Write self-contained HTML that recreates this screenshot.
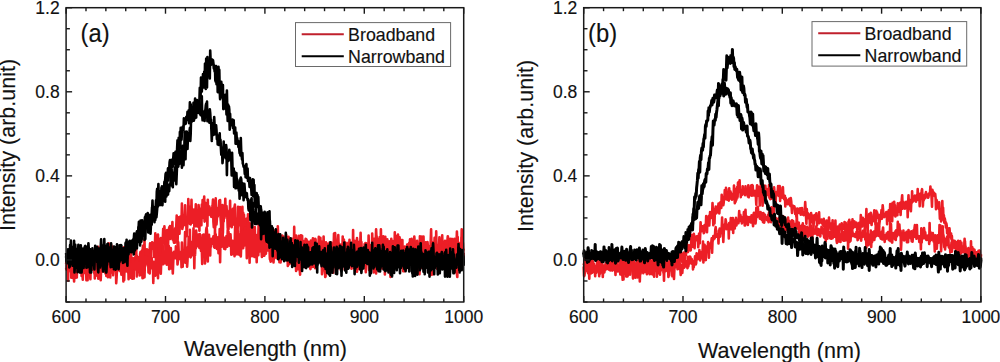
<!DOCTYPE html>
<html><head><meta charset="utf-8"><style>
html,body{margin:0;padding:0;background:#fff;width:1000px;height:362px;overflow:hidden}
svg{display:block}
text{font-family:"Liberation Sans", sans-serif;fill:#111;stroke:#111;stroke-width:0.15px}
</style></head><body>
<svg width="1000" height="362" viewBox="0 0 1000 362">
<path d="M66.1,264.1 66.5,261.0 66.9,255.0 67.3,254.8 67.7,258.1 68.1,265.8 68.5,268.4 68.9,268.9 69.3,264.9 69.7,262.5 70.1,270.2 70.5,271.6 70.9,259.5 71.3,277.6 71.7,263.5 72.1,258.4 72.5,270.3 72.9,271.4 73.3,268.4 73.7,256.6 74.1,263.1 74.5,277.7 74.9,265.6 75.3,253.5 75.7,253.7 76.0,256.7 76.4,264.0 76.8,277.5 77.2,260.5 77.6,263.4 78.0,261.3 78.4,249.0 78.8,260.4 79.2,259.6 79.6,256.8 80.0,264.1 80.4,267.5 80.8,268.1 81.2,255.4 81.6,257.6 82.0,266.0 82.4,252.2 82.8,260.3 83.2,273.1 83.6,256.7 84.0,263.0 84.4,273.0 84.8,257.4 85.2,264.7 85.6,265.1 86.0,256.8 86.4,280.2 86.8,272.5 87.2,265.3 87.6,259.6 88.0,267.3 88.4,270.0 88.8,270.5 89.2,262.6 89.6,255.9 90.0,273.8 90.4,279.1 90.8,264.1 91.2,264.8 91.6,269.2 92.0,256.4 92.4,254.8 92.8,266.2 93.2,264.4 93.6,256.7 94.0,265.1 94.4,273.2 94.8,262.0 95.2,269.0 95.6,258.7 95.9,265.6 96.3,262.9 96.7,257.0 97.1,262.4 97.5,266.6 97.9,269.7 98.3,246.8 98.7,251.9 99.1,273.9 99.5,270.1 99.9,256.3 100.3,266.1 100.7,261.0 101.1,254.3 101.5,260.0 101.9,262.2 102.3,265.0 102.7,261.8 103.1,257.8 103.5,246.4 103.9,252.0 104.3,262.6 104.7,253.2 105.1,259.9 105.5,273.4 105.9,261.8 106.3,252.5 106.7,265.8 107.1,252.9 107.5,263.4 107.9,260.5 108.3,270.8 108.7,243.3 109.1,256.9 109.5,252.2 109.9,264.5 110.3,272.9 110.7,250.4 111.1,266.6 111.5,246.7 111.9,262.0 112.3,246.8 112.7,266.6 113.1,275.3 113.5,254.6 113.9,261.0 114.3,260.4 114.7,251.5 115.1,267.8 115.5,271.2 115.8,270.1 116.2,274.4 116.6,275.4 117.0,271.0 117.4,268.4 117.8,264.0 118.2,270.3 118.6,261.4 119.0,253.9 119.4,262.2 119.8,256.8 120.2,268.0 120.6,258.0 121.0,256.5 121.4,265.9 121.8,273.5 122.2,262.2 122.6,260.8 123.0,248.8 123.4,264.3 123.8,247.2 124.2,279.9 124.6,263.6 125.0,265.1 125.4,264.2 125.8,265.4 126.2,261.4 126.6,247.3 127.0,262.2 127.4,251.0 127.8,261.7 128.2,259.9 128.6,279.3 129.0,260.0 129.4,255.6 129.8,270.1 130.2,265.7 130.6,267.6 131.0,242.9 131.4,268.6 131.8,266.3 132.2,278.8 132.6,273.4 133.0,258.5 133.4,270.7 133.8,278.5 134.2,262.4 134.6,259.1 135.0,257.7 135.4,256.8 135.7,264.8 136.1,237.7 136.5,264.2 136.9,255.8 137.3,269.9 137.7,264.5 138.1,271.9 138.5,257.3 138.9,262.3 139.3,267.3 139.7,275.5 140.1,254.2 140.5,251.8 140.9,251.6 141.3,259.1 141.7,252.5 142.1,250.5 142.5,253.6 142.9,245.8 143.3,258.8 143.7,255.5 144.1,269.6 144.5,239.4 144.9,262.7 145.3,253.5 145.7,250.7 146.1,262.4 146.5,255.7 146.9,249.4 147.3,255.6 147.7,257.0 148.1,256.8 148.5,259.7 148.9,254.9 149.3,250.1 149.7,249.1 150.1,243.4 150.5,251.7 150.9,256.1 151.3,244.4 151.7,248.2 152.1,242.4 152.5,248.8 152.9,245.5 153.3,246.3 153.7,243.1 154.1,256.9 154.5,249.3 154.9,246.5 155.3,233.3 155.6,247.8 156.0,243.0 156.4,247.9 156.8,263.2 157.2,235.3 157.6,239.6 158.0,234.5 158.4,255.8 158.8,241.7 159.2,242.2 159.6,256.3 160.0,239.0 160.4,247.5 160.8,238.0 161.2,255.5 161.6,248.6 162.0,246.8 162.4,253.2 162.8,239.6 163.2,228.8 163.6,239.5 164.0,233.7 164.4,226.3 164.8,233.6 165.2,240.9 165.6,253.4 166.0,234.2 166.4,239.5 166.8,240.2 167.2,230.0 167.6,231.1 168.0,248.4 168.4,233.0 168.8,237.4 169.2,227.2 169.6,234.2 170.0,226.0 170.4,238.9 170.8,236.4 171.2,237.3 171.6,234.0 172.0,234.2 172.4,222.0 172.8,239.8 173.2,230.6 173.6,240.7 174.0,242.7 174.4,235.3 174.8,242.6 175.2,228.3 175.5,235.5 175.9,233.6 176.3,225.0 176.7,215.5 177.1,232.6 177.5,244.1 177.9,230.8 178.3,227.2 178.7,217.4 179.1,226.9 179.5,233.6 179.9,218.2 180.3,216.5 180.7,226.8 181.1,222.5 181.5,221.6 181.9,203.5 182.3,228.9 182.7,227.0 183.1,224.1 183.5,217.0 183.9,225.1 184.3,218.1 184.7,214.5 185.1,205.3 185.5,222.7 185.9,223.8 186.3,223.7 186.7,236.1 187.1,230.2 187.5,218.8 187.9,218.6 188.3,199.1 188.7,209.0 189.1,212.6 189.5,206.6 189.9,224.0 190.3,223.1 190.7,224.4 191.1,219.3 191.5,199.8 191.9,219.7 192.3,222.7 192.7,216.8 193.1,210.0 193.5,212.8 193.9,209.5 194.3,226.5 194.7,223.5 195.1,218.0 195.4,215.2 195.8,204.4 196.2,226.2 196.6,210.2 197.0,217.3 197.4,210.1 197.8,220.6 198.2,226.6 198.6,205.0 199.0,212.3 199.4,230.8 199.8,208.6 200.2,222.7 200.6,215.0 201.0,214.2 201.4,225.2 201.8,204.5 202.2,218.1 202.6,200.0 203.0,209.4 203.4,209.0 203.8,211.0 204.2,196.6 204.6,221.6 205.0,219.4 205.4,218.3 205.8,203.1 206.2,203.8 206.6,211.8 207.0,210.2 207.4,226.1 207.8,199.8 208.2,214.0 208.6,211.1 209.0,214.6 209.4,206.5 209.8,213.7 210.2,210.9 210.6,211.1 211.0,216.0 211.4,216.9 211.8,208.4 212.2,208.5 212.6,205.5 213.0,199.5 213.4,222.0 213.8,227.1 214.2,215.1 214.6,201.0 215.0,212.1 215.3,227.0 215.7,198.4 216.1,207.6 216.5,224.4 216.9,218.9 217.3,211.1 217.7,216.7 218.1,213.2 218.5,207.8 218.9,212.2 219.3,200.6 219.7,214.0 220.1,200.0 220.5,217.5 220.9,222.4 221.3,230.3 221.7,220.1 222.1,212.2 222.5,205.0 222.9,233.3 223.3,213.6 223.7,221.5 224.1,207.5 224.5,217.9 224.9,211.2 225.3,198.7 225.7,213.0 226.1,215.5 226.5,206.0 226.9,212.0 227.3,216.3 227.7,228.3 228.1,218.0 228.5,229.2 228.9,213.8 229.3,210.9 229.7,215.5 230.1,200.8 230.5,226.1 230.9,213.3 231.3,216.7 231.7,227.2 232.1,213.4 232.5,211.0 232.9,208.8 233.3,219.9 233.7,213.5 234.1,224.6 234.5,206.9 234.9,204.6 235.2,218.6 235.6,218.3 236.0,229.3 236.4,220.5 236.8,224.0 237.2,219.3 237.6,233.2 238.0,206.9 238.4,220.4 238.8,213.2 239.2,218.4 239.6,225.2 240.0,207.0 240.4,214.0 240.8,236.1 241.2,224.2 241.6,226.2 242.0,231.3 242.4,206.8 242.8,235.4 243.2,212.8 243.6,240.2 244.0,214.7 244.4,230.8 244.8,245.5 245.2,224.8 245.6,223.3 246.0,235.3 246.4,218.9 246.8,242.4 247.2,219.2 247.6,224.0 248.0,214.2 248.4,232.8 248.8,222.5 249.2,235.0 249.6,223.6 250.0,228.7 250.4,224.3 250.8,242.1 251.2,227.5 251.6,228.8 252.0,219.6 252.4,235.3 252.8,234.3 253.2,227.7 253.6,229.0 254.0,254.0 254.4,236.3 254.8,227.0 255.1,237.5 255.5,250.3 255.9,237.9 256.3,235.5 256.7,243.6 257.1,235.1 257.5,245.3 257.9,237.9 258.3,235.9 258.7,221.9 259.1,234.0 259.5,226.6 259.9,235.6 260.3,247.1 260.7,247.4 261.1,231.3 261.5,251.5 261.9,251.6 262.3,230.9 262.7,245.5 263.1,248.4 263.5,225.2 263.9,246.4 264.3,234.2 264.7,239.8 265.1,238.5 265.5,239.4 265.9,231.5 266.3,227.7 266.7,248.0 267.1,227.6 267.5,242.3 267.9,242.1 268.3,235.1 268.7,245.5 269.1,248.8 269.5,228.6 269.9,246.2 270.3,259.2 270.7,261.7 271.1,239.1 271.5,243.2 271.9,227.6 272.3,251.9 272.7,252.4 273.1,242.1 273.5,231.4 273.9,230.8 274.3,242.5 274.7,248.2 275.0,241.8 275.4,230.3 275.8,243.8 276.2,247.0 276.6,239.6 277.0,241.8 277.4,242.6 277.8,226.3 278.2,238.1 278.6,242.8 279.0,246.8 279.4,246.2 279.8,239.8 280.2,238.1 280.6,249.5 281.0,248.7 281.4,246.7 281.8,252.3 282.2,235.5 282.6,252.2 283.0,243.5 283.4,236.6 283.8,253.1 284.2,252.1 284.6,246.3 285.0,241.0 285.4,243.7 285.8,244.9 286.2,234.9 286.6,250.2 287.0,251.2 287.4,240.2 287.8,244.7 288.2,237.9 288.6,236.8 289.0,255.1 289.4,263.5 289.8,241.5 290.2,246.5 290.6,243.9 291.0,253.9 291.4,239.7 291.8,248.4 292.2,242.0 292.6,239.0 293.0,245.8 293.4,247.5 293.8,252.6 294.2,226.9 294.6,258.4 294.9,241.2 295.3,259.7 295.7,254.1 296.1,235.6 296.5,253.5 296.9,238.6 297.3,250.7 297.7,240.3 298.1,259.5 298.5,257.3 298.9,235.7 299.3,245.1 299.7,256.7 300.1,252.1 300.5,268.4 300.9,250.9 301.3,259.4 301.7,256.5 302.1,235.9 302.5,253.1 302.9,253.9 303.3,258.0 303.7,243.2 304.1,244.2 304.5,256.0 304.9,262.9 305.3,250.8 305.7,248.0 306.1,265.8 306.5,239.6 306.9,256.9 307.3,248.5 307.7,255.9 308.1,255.8 308.5,241.7 308.9,248.7 309.3,262.2 309.7,246.7 310.1,242.7 310.5,251.0 310.9,240.6 311.3,257.4 311.7,241.7 312.1,247.8 312.5,248.3 312.9,238.2 313.3,243.8 313.7,252.3 314.1,245.5 314.5,255.4 314.8,245.5 315.2,238.7 315.6,239.5 316.0,255.6 316.4,251.7 316.8,244.3 317.2,244.8 317.6,256.0 318.0,247.9 318.4,246.5 318.8,236.9 319.2,247.7 319.6,250.4 320.0,258.8 320.4,261.2 320.8,242.0 321.2,249.2 321.6,253.5 322.0,241.6 322.4,245.7 322.8,250.6 323.2,243.7 323.6,253.2 324.0,243.7 324.4,246.5 324.8,253.3 325.2,253.0 325.6,255.8 326.0,242.2 326.4,250.8 326.8,258.2 327.2,243.6 327.6,245.6 328.0,249.6 328.4,247.9 328.8,252.8 329.2,254.6 329.6,242.5 330.0,259.1 330.4,262.6 330.8,260.9 331.2,242.5 331.6,258.7 332.0,252.1 332.4,255.9 332.8,258.4 333.2,251.3 333.6,250.9 334.0,233.5 334.4,252.7 334.7,247.7 335.1,233.0 335.5,238.0 335.9,244.6 336.3,242.2 336.7,250.0 337.1,242.7 337.5,247.4 337.9,256.5 338.3,235.1 338.7,249.6 339.1,244.8 339.5,253.8 339.9,259.7 340.3,264.3 340.7,269.6 341.1,244.6 341.5,264.2 341.9,254.1 342.3,249.7 342.7,262.1 343.1,254.0 343.5,246.6 343.9,251.7 344.3,244.9 344.7,269.6 345.1,244.8 345.5,242.6 345.9,261.0 346.3,243.3 346.7,253.0 347.1,251.8 347.5,245.1 347.9,262.1 348.3,242.8 348.7,255.8 349.1,243.2 349.5,250.3 349.9,247.4 350.3,256.6 350.7,250.0 351.1,259.4 351.5,255.5 351.9,261.5 352.3,250.3 352.7,258.1 353.1,230.1 353.5,257.1 353.9,267.9 354.3,240.5 354.6,252.9 355.0,245.7 355.4,249.3 355.8,256.4 356.2,254.8 356.6,258.9 357.0,238.0 357.4,244.3 357.8,260.9 358.2,241.7 358.6,245.0 359.0,263.5 359.4,256.8 359.8,246.6 360.2,247.6 360.6,232.7 361.0,250.0 361.4,242.0 361.8,254.0 362.2,250.9 362.6,249.9 363.0,250.5 363.4,248.3 363.8,249.3 364.2,263.6 364.6,244.1 365.0,259.5 365.4,243.1 365.8,244.6 366.2,244.2 366.6,254.9 367.0,247.5 367.4,243.9 367.8,254.4 368.2,262.3 368.6,235.5 369.0,251.9 369.4,254.0 369.8,258.2 370.2,260.2 370.6,269.6 371.0,258.9 371.4,259.0 371.8,257.2 372.2,233.6 372.6,250.8 373.0,253.1 373.4,249.1 373.8,256.2 374.2,238.8 374.5,239.3 374.9,256.0 375.3,241.3 375.7,243.2 376.1,229.3 376.5,238.9 376.9,261.2 377.3,252.9 377.7,242.6 378.1,244.6 378.5,238.9 378.9,250.6 379.3,247.2 379.7,237.1 380.1,244.4 380.5,249.6 380.9,229.3 381.3,250.0 381.7,247.9 382.1,256.5 382.5,247.1 382.9,263.8 383.3,236.4 383.7,267.9 384.1,242.0 384.5,256.5 384.9,246.4 385.3,236.7 385.7,249.3 386.1,245.2 386.5,254.8 386.9,252.0 387.3,239.2 387.7,255.6 388.1,242.1 388.5,247.8 388.9,252.8 389.3,241.4 389.7,257.4 390.1,246.7 390.5,260.6 390.9,251.6 391.3,260.3 391.7,247.9 392.1,241.9 392.5,241.0 392.9,245.8 393.3,247.5 393.7,253.3 394.1,252.7 394.4,257.5 394.8,232.3 395.2,250.3 395.6,250.7 396.0,248.4 396.4,256.5 396.8,235.9 397.2,253.4 397.6,257.8 398.0,234.6 398.4,239.5 398.8,244.0 399.2,253.5 399.6,237.4 400.0,249.5 400.4,247.3 400.8,239.9 401.2,248.1 401.6,253.4 402.0,267.7 402.4,240.1 402.8,268.6 403.2,256.3 403.6,257.6 404.0,254.8 404.4,253.8 404.8,246.5 405.2,253.3 405.6,269.6 406.0,250.9 406.4,260.9 406.8,254.4 407.2,261.7 407.6,252.1 408.0,253.4 408.4,244.3 408.8,247.3 409.2,242.9 409.6,263.2 410.0,239.3 410.4,255.2 410.8,247.2 411.2,245.2 411.6,244.4 412.0,251.8 412.4,262.4 412.8,243.7 413.2,239.8 413.6,240.4 414.0,240.6 414.3,236.6 414.7,242.3 415.1,253.4 415.5,243.8 415.9,259.2 416.3,250.5 416.7,249.1 417.1,240.8 417.5,252.6 417.9,251.9 418.3,254.6 418.7,246.0 419.1,264.5 419.5,269.0 419.9,236.2 420.3,239.9 420.7,244.7 421.1,247.1 421.5,255.2 421.9,262.8 422.3,246.6 422.7,259.6 423.1,242.4 423.5,248.1 423.9,261.9 424.3,248.1 424.7,264.8 425.1,256.2 425.5,242.3 425.9,256.1 426.3,252.6 426.7,255.6 427.1,254.6 427.5,242.0 427.9,246.2 428.3,245.8 428.7,262.7 429.1,252.0 429.5,256.0 429.9,248.5 430.3,258.1 430.7,241.5 431.1,229.3 431.5,248.2 431.9,254.0 432.3,242.7 432.7,262.8 433.1,253.7 433.5,242.1 433.9,252.3 434.2,249.5 434.6,237.8 435.0,247.3 435.4,244.4 435.8,257.1 436.2,231.4 436.6,252.2 437.0,245.2 437.4,248.4 437.8,249.4 438.2,259.3 438.6,251.2 439.0,248.0 439.4,237.4 439.8,247.5 440.2,252.4 440.6,247.1 441.0,247.4 441.4,249.6 441.8,246.6 442.2,235.3 442.6,248.7 443.0,259.4 443.4,253.2 443.8,251.2 444.2,254.7 444.6,247.4 445.0,240.9 445.4,265.0 445.8,257.9 446.2,252.7 446.6,243.5 447.0,263.7 447.4,240.5 447.8,236.2 448.2,238.9 448.6,246.7 449.0,259.5 449.4,253.0 449.8,254.1 450.2,247.9 450.6,241.3 451.0,244.0 451.4,256.0 451.8,240.7 452.2,238.9 452.6,256.6 453.0,256.6 453.4,252.6 453.8,245.9 454.1,257.0 454.5,238.8 454.9,247.2 455.3,241.8 455.7,253.3 456.1,255.8 456.5,245.1 456.9,231.5 457.3,241.9 457.7,237.1 458.1,251.8 458.5,253.0 458.9,248.3 459.3,243.1 459.7,247.9 460.1,258.1 460.5,261.3 460.9,246.2 461.3,249.8 461.7,229.3 462.1,253.4 462.5,256.5 462.9,242.8 463.3,251.4 463.7,248.5" fill="none" stroke="#ec1e26" stroke-width="2.6" stroke-linejoin="round"/>
<path d="M66.1,267.7 66.5,269.6 66.9,260.4 67.3,265.7 67.7,258.9 68.1,280.7 68.5,252.0 68.9,266.0 69.3,259.5 69.7,266.4 70.1,268.4 70.5,261.3 70.9,258.3 71.3,266.9 71.7,266.5 72.1,259.4 72.5,272.5 72.9,277.9 73.3,261.9 73.7,270.9 74.1,281.4 74.5,272.1 74.9,269.1 75.3,275.2 75.7,277.8 76.0,264.9 76.4,257.7 76.8,267.2 77.2,271.5 77.6,262.0 78.0,259.2 78.4,267.7 78.8,260.6 79.2,256.4 79.6,267.0 80.0,272.1 80.4,262.3 80.8,263.1 81.2,256.0 81.6,276.0 82.0,270.8 82.4,272.3 82.8,279.8 83.2,264.1 83.6,260.8 84.0,271.4 84.4,253.6 84.8,258.3 85.2,259.9 85.6,261.8 86.0,257.2 86.4,276.4 86.8,260.1 87.2,260.1 87.6,280.1 88.0,262.3 88.4,267.3 88.8,258.6 89.2,268.9 89.6,265.4 90.0,262.3 90.4,272.6 90.8,260.2 91.2,266.1 91.6,261.1 92.0,269.6 92.4,256.1 92.8,260.1 93.2,266.7 93.6,259.9 94.0,254.6 94.4,250.2 94.8,278.4 95.2,257.8 95.6,261.3 95.9,266.0 96.3,273.7 96.7,254.6 97.1,275.8 97.5,260.4 97.9,254.3 98.3,278.7 98.7,267.8 99.1,276.2 99.5,263.2 99.9,252.5 100.3,248.2 100.7,280.2 101.1,270.0 101.5,259.3 101.9,251.9 102.3,261.7 102.7,271.5 103.1,262.7 103.5,265.4 103.9,266.9 104.3,271.4 104.7,262.0 105.1,262.6 105.5,266.0 105.9,267.1 106.3,276.0 106.7,269.3 107.1,255.1 107.5,266.8 107.9,277.3 108.3,254.0 108.7,260.8 109.1,247.5 109.5,264.7 109.9,269.1 110.3,277.4 110.7,254.1 111.1,245.0 111.5,272.1 111.9,270.7 112.3,260.2 112.7,272.2 113.1,267.5 113.5,268.2 113.9,263.6 114.3,256.0 114.7,265.0 115.1,257.5 115.5,268.7 115.8,262.5 116.2,283.2 116.6,277.4 117.0,258.5 117.4,270.2 117.8,260.3 118.2,260.7 118.6,254.1 119.0,258.4 119.4,256.7 119.8,266.2 120.2,271.1 120.6,271.4 121.0,269.3 121.4,274.7 121.8,269.8 122.2,266.0 122.6,263.1 123.0,268.1 123.4,281.4 123.8,265.8 124.2,263.3 124.6,256.1 125.0,260.4 125.4,270.6 125.8,271.3 126.2,248.3 126.6,258.9 127.0,249.8 127.4,247.3 127.8,272.1 128.2,262.0 128.6,261.4 129.0,260.5 129.4,260.7 129.8,263.5 130.2,263.7 130.6,277.8 131.0,266.6 131.4,271.5 131.8,264.2 132.2,269.1 132.6,260.0 133.0,258.3 133.4,262.6 133.8,262.6 134.2,264.4 134.6,269.0 135.0,266.6 135.4,269.4 135.7,262.0 136.1,265.1 136.5,260.3 136.9,276.4 137.3,257.7 137.7,271.6 138.1,271.4 138.5,266.9 138.9,269.9 139.3,262.8 139.7,270.0 140.1,274.2 140.5,272.3 140.9,254.2 141.3,264.8 141.7,275.0 142.1,265.1 142.5,278.2 142.9,250.1 143.3,277.9 143.7,261.1 144.1,260.5 144.5,277.2 144.9,262.4 145.3,256.5 145.7,260.9 146.1,262.6 146.5,256.8 146.9,263.4 147.3,261.8 147.7,265.6 148.1,259.2 148.5,272.4 148.9,257.7 149.3,268.5 149.7,273.4 150.1,261.1 150.5,249.8 150.9,255.9 151.3,268.2 151.7,257.9 152.1,267.5 152.5,264.6 152.9,262.7 153.3,282.9 153.7,261.7 154.1,271.9 154.5,269.0 154.9,275.4 155.3,275.6 155.6,270.7 156.0,255.7 156.4,248.5 156.8,262.7 157.2,253.2 157.6,264.4 158.0,278.2 158.4,260.7 158.8,258.1 159.2,265.4 159.6,259.1 160.0,256.7 160.4,268.7 160.8,273.7 161.2,263.0 161.6,262.8 162.0,263.9 162.4,252.5 162.8,246.2 163.2,264.1 163.6,254.6 164.0,252.5 164.4,254.3 164.8,251.3 165.2,263.3 165.6,253.7 166.0,242.8 166.4,252.9 166.8,264.8 167.2,254.3 167.6,248.7 168.0,256.1 168.4,263.8 168.8,246.0 169.2,269.3 169.6,254.4 170.0,258.7 170.4,268.4 170.8,248.0 171.2,255.2 171.6,267.8 172.0,252.8 172.4,261.3 172.8,273.5 173.2,263.2 173.6,255.0 174.0,251.7 174.4,255.5 174.8,256.4 175.2,252.6 175.5,258.2 175.9,246.3 176.3,254.8 176.7,253.4 177.1,251.2 177.5,264.5 177.9,261.4 178.3,242.4 178.7,252.2 179.1,257.3 179.5,251.8 179.9,258.6 180.3,252.0 180.7,259.8 181.1,251.7 181.5,267.1 181.9,242.5 182.3,257.8 182.7,266.6 183.1,255.0 183.5,256.1 183.9,251.5 184.3,262.2 184.7,249.1 185.1,232.0 185.5,262.8 185.9,249.0 186.3,254.3 186.7,249.9 187.1,266.6 187.5,260.8 187.9,247.1 188.3,251.1 188.7,236.9 189.1,256.4 189.5,248.8 189.9,229.9 190.3,256.3 190.7,257.3 191.1,249.9 191.5,249.8 191.9,242.1 192.3,247.9 192.7,255.2 193.1,246.8 193.5,228.2 193.9,237.5 194.3,268.2 194.7,248.9 195.1,254.9 195.4,242.1 195.8,248.5 196.2,230.6 196.6,238.8 197.0,238.9 197.4,244.6 197.8,246.2 198.2,242.8 198.6,234.6 199.0,240.8 199.4,248.0 199.8,234.1 200.2,243.0 200.6,245.1 201.0,250.9 201.4,248.9 201.8,249.3 202.2,264.0 202.6,235.1 203.0,238.8 203.4,245.3 203.8,234.6 204.2,239.6 204.6,240.1 205.0,263.4 205.4,245.1 205.8,238.6 206.2,229.6 206.6,227.6 207.0,231.1 207.4,252.8 207.8,261.5 208.2,238.2 208.6,242.7 209.0,234.8 209.4,244.0 209.8,241.0 210.2,255.5 210.6,239.1 211.0,246.6 211.4,239.9 211.8,238.9 212.2,243.8 212.6,240.1 213.0,242.9 213.4,236.3 213.8,238.5 214.2,247.3 214.6,247.6 215.0,228.0 215.3,243.5 215.7,234.3 216.1,239.3 216.5,247.3 216.9,248.9 217.3,241.6 217.7,240.4 218.1,237.4 218.5,253.2 218.9,247.5 219.3,243.3 219.7,229.0 220.1,262.3 220.5,238.8 220.9,247.0 221.3,238.8 221.7,246.6 222.1,239.3 222.5,229.2 222.9,239.4 223.3,238.7 223.7,239.2 224.1,248.7 224.5,237.8 224.9,244.1 225.3,249.1 225.7,242.6 226.1,244.2 226.5,236.0 226.9,242.6 227.3,246.7 227.7,230.0 228.1,233.9 228.5,231.6 228.9,237.1 229.3,243.2 229.7,245.7 230.1,244.6 230.5,234.2 230.9,241.3 231.3,254.7 231.7,242.5 232.1,254.1 232.5,240.8 232.9,252.3 233.3,252.8 233.7,241.2 234.1,242.8 234.5,256.1 234.9,235.9 235.2,224.0 235.6,254.6 236.0,226.8 236.4,247.9 236.8,246.3 237.2,243.6 237.6,254.3 238.0,231.2 238.4,238.0 238.8,248.4 239.2,244.4 239.6,254.9 240.0,245.0 240.4,234.2 240.8,256.5 241.2,245.8 241.6,240.9 242.0,233.3 242.4,230.7 242.8,245.9 243.2,248.3 243.6,238.3 244.0,245.1 244.4,244.7 244.8,233.0 245.2,227.9 245.6,239.9 246.0,243.7 246.4,237.3 246.8,258.1 247.2,242.4 247.6,251.2 248.0,222.2 248.4,236.3 248.8,241.3 249.2,244.2 249.6,262.8 250.0,236.7 250.4,229.1 250.8,249.0 251.2,237.2 251.6,237.0 252.0,256.2 252.4,235.4 252.8,232.0 253.2,241.6 253.6,244.2 254.0,237.2 254.4,256.9 254.8,243.3 255.1,235.3 255.5,254.8 255.9,236.1 256.3,248.1 256.7,262.2 257.1,245.8 257.5,253.2 257.9,242.5 258.3,255.2 258.7,236.6 259.1,251.8 259.5,242.7 259.9,250.9 260.3,248.7 260.7,236.1 261.1,244.4 261.5,249.7 261.9,257.0 262.3,236.9 262.7,240.6 263.1,249.6 263.5,244.9 263.9,255.7 264.3,255.7 264.7,254.2 265.1,244.4 265.5,245.0 265.9,253.8 266.3,241.5 266.7,241.2 267.1,246.4 267.5,239.2 267.9,250.5 268.3,249.1 268.7,244.3 269.1,248.6 269.5,241.8 269.9,259.1 270.3,236.6 270.7,255.3 271.1,250.2 271.5,260.5 271.9,244.0 272.3,238.4 272.7,240.2 273.1,242.3 273.5,262.5 273.9,256.1 274.3,253.5 274.7,257.5 275.0,240.3 275.4,248.3 275.8,250.2 276.2,245.9 276.6,258.1 277.0,257.9 277.4,257.7 277.8,246.2 278.2,247.6 278.6,245.7 279.0,241.6 279.4,262.2 279.8,255.6 280.2,249.7 280.6,262.4 281.0,255.6 281.4,242.7 281.8,242.0 282.2,242.3 282.6,251.1 283.0,253.3 283.4,242.6 283.8,254.8 284.2,249.0 284.6,240.7 285.0,255.1 285.4,257.2 285.8,252.2 286.2,247.2 286.6,248.2 287.0,251.0 287.4,247.7 287.8,266.0 288.2,259.8 288.6,251.3 289.0,260.5 289.4,264.1 289.8,263.0 290.2,260.7 290.6,254.5 291.0,261.7 291.4,251.2 291.8,238.9 292.2,254.5 292.6,242.6 293.0,251.0 293.4,262.9 293.8,255.7 294.2,261.8 294.6,247.2 294.9,263.4 295.3,242.6 295.7,248.9 296.1,270.9 296.5,247.3 296.9,240.9 297.3,260.7 297.7,245.8 298.1,269.3 298.5,252.1 298.9,268.2 299.3,250.3 299.7,269.4 300.1,274.6 300.5,251.2 300.9,235.3 301.3,259.6 301.7,247.7 302.1,253.8 302.5,257.5 302.9,249.7 303.3,241.1 303.7,265.3 304.1,250.3 304.5,252.2 304.9,267.1 305.3,241.6 305.7,238.8 306.1,263.3 306.5,240.7 306.9,254.9 307.3,256.8 307.7,242.9 308.1,253.6 308.5,252.9 308.9,242.9 309.3,244.9 309.7,248.2 310.1,267.6 310.5,269.1 310.9,246.4 311.3,263.7 311.7,254.7 312.1,265.1 312.5,257.6 312.9,266.9 313.3,242.5 313.7,264.8 314.1,257.3 314.5,257.9 314.8,246.2 315.2,268.3 315.6,256.7 316.0,258.2 316.4,252.0 316.8,252.5 317.2,260.4 317.6,254.5 318.0,259.7 318.4,252.7 318.8,257.5 319.2,262.2 319.6,256.9 320.0,253.6 320.4,237.7 320.8,260.9 321.2,254.2 321.6,244.5 322.0,274.2 322.4,271.4 322.8,266.8 323.2,257.8 323.6,236.6 324.0,253.5 324.4,246.6 324.8,258.7 325.2,277.0 325.6,276.3 326.0,248.2 326.4,255.2 326.8,267.7 327.2,247.4 327.6,269.7 328.0,247.3 328.4,244.6 328.8,263.2 329.2,266.1 329.6,249.7 330.0,266.0 330.4,249.6 330.8,266.9 331.2,250.0 331.6,256.0 332.0,260.4 332.4,264.3 332.8,254.8 333.2,272.7 333.6,259.1 334.0,260.1 334.4,251.1 334.7,267.3 335.1,242.4 335.5,259.4 335.9,266.4 336.3,245.1 336.7,242.8 337.1,258.4 337.5,264.3 337.9,256.7 338.3,262.6 338.7,259.4 339.1,243.7 339.5,253.5 339.9,255.6 340.3,253.9 340.7,257.3 341.1,249.7 341.5,249.4 341.9,259.9 342.3,255.9 342.7,236.6 343.1,253.3 343.5,258.4 343.9,239.6 344.3,256.7 344.7,266.0 345.1,251.1 345.5,264.4 345.9,261.0 346.3,254.1 346.7,257.9 347.1,263.2 347.5,261.4 347.9,261.8 348.3,247.0 348.7,262.9 349.1,261.6 349.5,239.7 349.9,261.5 350.3,244.3 350.7,245.7 351.1,258.1 351.5,268.7 351.9,253.0 352.3,251.1 352.7,248.7 353.1,256.2 353.5,246.7 353.9,245.1 354.3,265.7 354.6,244.8 355.0,255.3 355.4,261.6 355.8,259.5 356.2,241.0 356.6,248.5 357.0,271.8 357.4,256.1 357.8,258.0 358.2,258.3 358.6,261.1 359.0,269.0 359.4,249.6 359.8,264.7 360.2,259.9 360.6,261.9 361.0,262.9 361.4,250.6 361.8,253.6 362.2,262.5 362.6,264.7 363.0,260.8 363.4,248.7 363.8,255.7 364.2,254.8 364.6,259.6 365.0,259.0 365.4,255.0 365.8,272.3 366.2,243.2 366.6,263.4 367.0,261.6 367.4,245.5 367.8,254.9 368.2,256.5 368.6,261.7 369.0,269.9 369.4,255.2 369.8,246.8 370.2,264.4 370.6,245.3 371.0,266.3 371.4,263.0 371.8,252.6 372.2,256.8 372.6,251.0 373.0,263.0 373.4,265.5 373.8,272.5 374.2,266.9 374.5,265.9 374.9,268.8 375.3,254.2 375.7,262.4 376.1,273.5 376.5,236.6 376.9,263.8 377.3,267.4 377.7,246.4 378.1,247.0 378.5,266.5 378.9,269.2 379.3,265.2 379.7,247.3 380.1,259.4 380.5,263.6 380.9,257.0 381.3,246.7 381.7,268.5 382.1,260.0 382.5,268.4 382.9,238.5 383.3,241.5 383.7,248.8 384.1,257.9 384.5,251.3 384.9,274.5 385.3,254.5 385.7,268.0 386.1,267.9 386.5,262.7 386.9,259.7 387.3,252.0 387.7,250.9 388.1,254.6 388.5,264.7 388.9,251.1 389.3,257.8 389.7,246.9 390.1,264.5 390.5,277.0 390.9,260.8 391.3,238.7 391.7,252.9 392.1,258.4 392.5,249.4 392.9,252.6 393.3,252.9 393.7,261.1 394.1,256.2 394.4,255.1 394.8,262.2 395.2,266.2 395.6,255.6 396.0,248.7 396.4,251.4 396.8,252.7 397.2,252.6 397.6,236.6 398.0,254.6 398.4,248.0 398.8,240.3 399.2,256.4 399.6,254.6 400.0,248.0 400.4,242.6 400.8,254.2 401.2,253.8 401.6,256.0 402.0,266.9 402.4,247.4 402.8,258.9 403.2,271.3 403.6,258.0 404.0,271.3 404.4,265.3 404.8,256.6 405.2,264.5 405.6,247.8 406.0,269.1 406.4,254.5 406.8,252.1 407.2,244.5 407.6,249.0 408.0,254.8 408.4,256.1 408.8,257.2 409.2,247.2 409.6,262.3 410.0,252.3 410.4,257.5 410.8,254.7 411.2,258.9 411.6,238.8 412.0,262.2 412.4,254.6 412.8,254.4 413.2,251.6 413.6,252.9 414.0,253.1 414.3,248.5 414.7,269.4 415.1,256.6 415.5,267.1 415.9,254.7 416.3,266.6 416.7,264.8 417.1,257.2 417.5,245.0 417.9,251.8 418.3,254.2 418.7,244.9 419.1,264.6 419.5,274.3 419.9,260.3 420.3,259.0 420.7,246.3 421.1,238.7 421.5,267.9 421.9,236.6 422.3,243.5 422.7,249.6 423.1,253.6 423.5,236.6 423.9,256.0 424.3,260.7 424.7,255.5 425.1,268.2 425.5,252.7 425.9,257.6 426.3,253.9 426.7,253.7 427.1,265.6 427.5,245.6 427.9,265.2 428.3,249.2 428.7,270.1 429.1,253.6 429.5,263.6 429.9,256.3 430.3,262.2 430.7,275.0 431.1,266.1 431.5,256.1 431.9,251.4 432.3,269.0 432.7,274.5 433.1,264.0 433.5,258.5 433.9,262.0 434.2,263.5 434.6,249.5 435.0,248.6 435.4,250.4 435.8,264.6 436.2,256.0 436.6,258.3 437.0,268.7 437.4,249.3 437.8,255.9 438.2,260.8 438.6,244.8 439.0,250.3 439.4,249.5 439.8,246.6 440.2,250.6 440.6,267.3 441.0,259.9 441.4,248.2 441.8,263.1 442.2,256.4 442.6,253.3 443.0,244.6 443.4,245.8 443.8,249.1 444.2,258.3 444.6,249.0 445.0,252.2 445.4,258.0 445.8,245.3 446.2,252.5 446.6,263.0 447.0,246.0 447.4,258.8 447.8,251.7 448.2,269.5 448.6,256.9 449.0,264.7 449.4,264.9 449.8,272.8 450.2,238.7 450.6,258.0 451.0,254.7 451.4,247.4 451.8,257.7 452.2,252.4 452.6,268.1 453.0,255.1 453.4,260.2 453.8,252.5 454.1,255.2 454.5,268.4 454.9,272.3 455.3,265.3 455.7,250.5 456.1,253.2 456.5,253.3 456.9,273.7 457.3,277.0 457.7,262.0 458.1,259.5 458.5,261.8 458.9,253.8 459.3,258.2 459.7,266.7 460.1,264.2 460.5,255.6 460.9,256.2 461.3,257.4 461.7,237.7 462.1,259.0 462.5,255.8 462.9,265.2 463.3,259.8 463.7,252.4" fill="none" stroke="#ec1e26" stroke-width="2.6" stroke-linejoin="round"/>
<path d="M66.1,252.9 66.5,259.1 66.9,262.1 67.3,262.0 67.7,262.7 68.1,249.3 68.5,256.1 68.9,254.9 69.3,260.2 69.7,263.3 70.1,264.1 70.5,261.6 70.9,251.6 71.3,255.6 71.7,258.9 72.1,257.4 72.5,265.7 72.9,247.2 73.3,264.2 73.7,255.5 74.1,240.9 74.5,272.4 74.9,265.5 75.3,260.8 75.7,254.9 76.0,267.6 76.4,257.4 76.8,256.0 77.2,254.6 77.6,272.3 78.0,251.3 78.4,244.7 78.8,252.7 79.2,260.8 79.6,260.0 80.0,272.4 80.4,252.5 80.8,245.3 81.2,251.2 81.6,272.4 82.0,258.7 82.4,256.5 82.8,259.1 83.2,248.6 83.6,267.9 84.0,260.7 84.4,251.6 84.8,248.9 85.2,254.6 85.6,248.4 86.0,252.1 86.4,263.1 86.8,246.8 87.2,259.3 87.6,267.1 88.0,252.7 88.4,243.2 88.8,249.1 89.2,248.8 89.6,254.4 90.0,272.4 90.4,251.0 90.8,254.7 91.2,272.4 91.6,260.3 92.0,261.9 92.4,248.4 92.8,254.9 93.2,253.7 93.6,254.1 94.0,265.0 94.4,269.4 94.8,255.4 95.2,257.8 95.6,255.9 95.9,256.9 96.3,259.2 96.7,251.9 97.1,254.4 97.5,260.1 97.9,268.9 98.3,272.4 98.7,265.7 99.1,256.8 99.5,249.4 99.9,258.7 100.3,251.1 100.7,247.7 101.1,239.2 101.5,253.8 101.9,245.4 102.3,254.1 102.7,264.3 103.1,271.5 103.5,253.7 103.9,249.6 104.3,239.1 104.7,260.4 105.1,252.4 105.5,256.6 105.9,272.2 106.3,253.2 106.7,258.0 107.1,264.6 107.5,244.0 107.9,260.0 108.3,252.5 108.7,257.6 109.1,260.7 109.5,256.9 109.9,250.3 110.3,260.5 110.7,267.2 111.1,243.3 111.5,252.7 111.9,262.4 112.3,256.4 112.7,266.6 113.1,256.2 113.5,249.8 113.9,269.2 114.3,249.7 114.7,250.2 115.1,257.6 115.5,255.0 115.8,258.0 116.2,258.8 116.6,268.6 117.0,244.3 117.4,260.2 117.8,254.5 118.2,256.8 118.6,252.0 119.0,251.0 119.4,261.9 119.8,252.1 120.2,256.3 120.6,260.3 121.0,245.0 121.4,245.6 121.8,259.9 122.2,255.5 122.6,260.2 123.0,260.9 123.4,259.5 123.8,248.6 124.2,262.0 124.6,262.1 125.0,249.6 125.4,256.3 125.8,242.5 126.2,257.4 126.6,253.7 127.0,255.4 127.4,265.7 127.8,246.9 128.2,244.1 128.6,241.9 129.0,249.4 129.4,243.1 129.8,248.4 130.2,247.5 130.6,252.0 131.0,247.1 131.4,252.1 131.8,240.9 132.2,249.3 132.6,251.4 133.0,244.4 133.4,243.6 133.8,254.4 134.2,249.6 134.6,245.7 135.0,238.5 135.4,237.0 135.7,234.6 136.1,241.4 136.5,244.8 136.9,248.4 137.3,237.2 137.7,240.2 138.1,233.9 138.5,229.3 138.9,221.9 139.3,241.2 139.7,230.6 140.1,245.4 140.5,226.1 140.9,241.2 141.3,233.1 141.7,239.2 142.1,220.2 142.5,226.5 142.9,223.5 143.3,230.1 143.7,225.9 144.1,235.6 144.5,230.6 144.9,217.2 145.3,238.9 145.7,225.0 146.1,216.4 146.5,216.7 146.9,219.0 147.3,222.9 147.7,213.0 148.1,223.8 148.5,221.4 148.9,232.2 149.3,217.8 149.7,221.5 150.1,218.7 150.5,233.8 150.9,225.7 151.3,217.9 151.7,224.7 152.1,211.2 152.5,200.6 152.9,214.7 153.3,210.8 153.7,216.3 154.1,215.8 154.5,222.1 154.9,207.7 155.3,220.0 155.6,213.8 156.0,213.6 156.4,217.5 156.8,213.3 157.2,208.6 157.6,199.8 158.0,206.5 158.4,196.8 158.8,202.8 159.2,203.5 159.6,200.4 160.0,205.0 160.4,196.0 160.8,200.6 161.2,200.0 161.6,187.7 162.0,205.1 162.4,205.2 162.8,198.2 163.2,194.9 163.6,198.4 164.0,189.2 164.4,192.2 164.8,191.3 165.2,201.8 165.6,180.6 166.0,190.7 166.4,196.5 166.8,180.2 167.2,188.8 167.6,192.8 168.0,194.6 168.4,186.2 168.8,189.6 169.2,191.2 169.6,184.2 170.0,184.3 170.4,185.6 170.8,174.5 171.2,169.9 171.6,169.3 172.0,180.8 172.4,180.9 172.8,187.2 173.2,177.4 173.6,181.3 174.0,172.6 174.4,174.7 174.8,167.6 175.2,171.3 175.5,166.9 175.9,165.0 176.3,184.3 176.7,174.2 177.1,164.6 177.5,165.3 177.9,162.9 178.3,166.7 178.7,157.3 179.1,164.3 179.5,161.9 179.9,163.5 180.3,153.3 180.7,151.4 181.1,156.2 181.5,152.2 181.9,167.7 182.3,145.9 182.7,164.9 183.1,154.2 183.5,165.1 183.9,151.9 184.3,151.1 184.7,131.6 185.1,152.3 185.5,159.2 185.9,141.1 186.3,143.0 186.7,131.5 187.1,132.8 187.5,149.0 187.9,138.3 188.3,136.8 188.7,132.7 189.1,134.4 189.5,131.7 189.9,127.8 190.3,140.9 190.7,133.8 191.1,116.2 191.5,115.8 191.9,121.6 192.3,117.8 192.7,113.3 193.1,109.0 193.5,118.2 193.9,120.8 194.3,106.6 194.7,115.6 195.1,118.3 195.4,106.8 195.8,110.8 196.2,108.7 196.6,107.4 197.0,100.1 197.4,103.1 197.8,101.8 198.2,111.0 198.6,109.7 199.0,106.4 199.4,101.6 199.8,87.8 200.2,98.4 200.6,96.1 201.0,77.6 201.4,87.7 201.8,91.6 202.2,82.8 202.6,85.3 203.0,74.1 203.4,78.2 203.8,87.5 204.2,71.8 204.6,86.7 205.0,63.5 205.4,72.3 205.8,88.9 206.2,58.5 206.6,77.6 207.0,87.5 207.4,57.0 207.8,75.8 208.2,70.0 208.6,69.8 209.0,66.7 209.4,62.5 209.8,78.5 210.2,50.6 210.6,60.5 211.0,65.0 211.4,60.5 211.8,64.3 212.2,59.6 212.6,61.2 213.0,60.3 213.4,63.2 213.8,68.3 214.2,66.3 214.6,71.5 215.0,66.0 215.3,80.1 215.7,81.6 216.1,66.0 216.5,84.1 216.9,71.6 217.3,70.1 217.7,92.1 218.1,75.9 218.5,66.9 218.9,83.5 219.3,69.7 219.7,90.1 220.1,99.2 220.5,91.6 220.9,92.5 221.3,81.9 221.7,91.6 222.1,96.1 222.5,97.8 222.9,85.1 223.3,109.1 223.7,107.1 224.1,102.8 224.5,100.5 224.9,96.6 225.3,94.8 225.7,109.2 226.1,102.0 226.5,114.4 226.9,90.6 227.3,109.4 227.7,120.9 228.1,104.6 228.5,112.3 228.9,106.2 229.3,109.7 229.7,129.8 230.1,113.8 230.5,123.0 230.9,125.1 231.3,122.9 231.7,125.3 232.1,124.2 232.5,119.6 232.9,127.9 233.3,127.4 233.7,120.4 234.1,133.5 234.5,130.4 234.9,133.9 235.2,127.6 235.6,143.6 236.0,136.7 236.4,132.5 236.8,139.0 237.2,138.0 237.6,144.2 238.0,140.9 238.4,146.9 238.8,141.2 239.2,148.9 239.6,153.0 240.0,150.7 240.4,155.4 240.8,138.0 241.2,150.6 241.6,155.1 242.0,159.3 242.4,153.0 242.8,163.6 243.2,164.3 243.6,166.8 244.0,166.7 244.4,167.7 244.8,174.0 245.2,166.0 245.6,177.2 246.0,167.2 246.4,164.0 246.8,177.8 247.2,178.2 247.6,168.6 248.0,181.0 248.4,177.4 248.8,179.7 249.2,181.7 249.6,187.0 250.0,178.1 250.4,183.1 250.8,187.5 251.2,188.0 251.6,194.9 252.0,184.1 252.4,185.7 252.8,179.4 253.2,196.3 253.6,179.7 254.0,192.4 254.4,185.0 254.8,206.6 255.1,194.3 255.5,192.9 255.9,208.9 256.3,195.8 256.7,193.1 257.1,206.9 257.5,195.1 257.9,199.8 258.3,196.7 258.7,207.0 259.1,213.2 259.5,210.0 259.9,206.0 260.3,223.1 260.7,206.2 261.1,209.9 261.5,211.7 261.9,228.3 262.3,220.0 262.7,215.6 263.1,217.9 263.5,212.8 263.9,222.3 264.3,222.4 264.7,211.9 265.1,214.2 265.5,221.4 265.9,224.6 266.3,233.6 266.7,218.9 267.1,226.3 267.5,212.3 267.9,229.2 268.3,225.3 268.7,230.9 269.1,225.1 269.5,211.2 269.9,231.1 270.3,236.0 270.7,227.8 271.1,229.4 271.5,244.1 271.9,226.3 272.3,241.1 272.7,228.1 273.1,234.6 273.5,239.7 273.9,234.4 274.3,241.9 274.7,247.6 275.0,243.0 275.4,240.1 275.8,248.6 276.2,240.4 276.6,248.8 277.0,237.4 277.4,242.2 277.8,244.8 278.2,259.1 278.6,241.2 279.0,258.1 279.4,248.6 279.8,254.5 280.2,234.4 280.6,245.8 281.0,244.1 281.4,241.7 281.8,249.0 282.2,241.8 282.6,256.2 283.0,240.7 283.4,243.2 283.8,247.1 284.2,261.3 284.6,260.8 285.0,256.5 285.4,252.1 285.8,244.7 286.2,250.9 286.6,251.3 287.0,250.3 287.4,254.6 287.8,255.4 288.2,252.5 288.6,244.7 289.0,250.1 289.4,248.6 289.8,241.5 290.2,262.3 290.6,258.3 291.0,248.1 291.4,249.6 291.8,255.6 292.2,262.8 292.6,252.3 293.0,251.8 293.4,246.0 293.8,257.5 294.2,251.6 294.6,262.7 294.9,266.0 295.3,240.3 295.7,256.3 296.1,247.1 296.5,249.2 296.9,252.8 297.3,245.1 297.7,240.8 298.1,256.5 298.5,253.2 298.9,262.6 299.3,252.5 299.7,250.7 300.1,257.7 300.5,256.9 300.9,259.0 301.3,256.1 301.7,247.3 302.1,256.3 302.5,256.2 302.9,261.6 303.3,252.0 303.7,253.3 304.1,258.2 304.5,244.7 304.9,265.2 305.3,247.7 305.7,252.7 306.1,264.2 306.5,252.3 306.9,245.2 307.3,248.6 307.7,253.0 308.1,247.4 308.5,264.3 308.9,255.3 309.3,265.2 309.7,258.6 310.1,256.8 310.5,256.9 310.9,256.4 311.3,259.4 311.7,256.4 312.1,254.1 312.5,248.0 312.9,256.7 313.3,247.3 313.7,263.2 314.1,252.4 314.5,253.7 314.8,255.8 315.2,242.8 315.6,258.7 316.0,254.7 316.4,264.4 316.8,263.3 317.2,260.3 317.6,247.6 318.0,255.6 318.4,262.1 318.8,255.2 319.2,246.3 319.6,261.2 320.0,256.4 320.4,261.5 320.8,260.1 321.2,252.0 321.6,264.4 322.0,256.9 322.4,256.6 322.8,260.5 323.2,263.6 323.6,254.8 324.0,263.5 324.4,266.4 324.8,248.2 325.2,258.6 325.6,269.0 326.0,263.2 326.4,262.2 326.8,259.4 327.2,262.0 327.6,253.4 328.0,255.2 328.4,245.8 328.8,274.3 329.2,261.7 329.6,260.9 330.0,275.7 330.4,263.9 330.8,247.0 331.2,262.9 331.6,256.5 332.0,258.5 332.4,272.6 332.8,265.7 333.2,254.5 333.6,251.3 334.0,247.5 334.4,265.0 334.7,255.9 335.1,265.0 335.5,261.5 335.9,273.6 336.3,257.1 336.7,246.7 337.1,256.6 337.5,257.9 337.9,255.8 338.3,255.6 338.7,268.3 339.1,253.0 339.5,262.7 339.9,245.7 340.3,253.1 340.7,258.4 341.1,258.2 341.5,275.8 341.9,258.7 342.3,258.6 342.7,259.4 343.1,264.3 343.5,254.7 343.9,256.4 344.3,261.8 344.7,259.0 345.1,270.5 345.5,252.9 345.9,261.8 346.3,272.7 346.7,257.4 347.1,258.4 347.5,249.0 347.9,259.4 348.3,268.7 348.7,267.9 349.1,250.8 349.5,260.0 349.9,264.7 350.3,255.1 350.7,247.6 351.1,252.9 351.5,260.0 351.9,254.1 352.3,265.4 352.7,264.8 353.1,258.5 353.5,265.6 353.9,244.8 354.3,251.9 354.6,274.1 355.0,261.9 355.4,268.8 355.8,254.4 356.2,262.3 356.6,254.2 357.0,251.7 357.4,261.8 357.8,259.1 358.2,251.2 358.6,254.2 359.0,248.9 359.4,254.7 359.8,265.4 360.2,248.5 360.6,267.4 361.0,265.6 361.4,273.0 361.8,267.5 362.2,253.2 362.6,261.5 363.0,255.5 363.4,268.4 363.8,257.3 364.2,251.2 364.6,250.9 365.0,259.9 365.4,252.7 365.8,244.8 366.2,262.5 366.6,254.2 367.0,256.7 367.4,259.2 367.8,263.3 368.2,261.9 368.6,257.8 369.0,253.0 369.4,259.3 369.8,256.9 370.2,256.8 370.6,255.1 371.0,273.2 371.4,263.7 371.8,262.0 372.2,260.5 372.6,254.5 373.0,253.0 373.4,253.9 373.8,256.1 374.2,262.8 374.5,266.8 374.9,263.9 375.3,248.2 375.7,261.4 376.1,261.7 376.5,249.1 376.9,257.4 377.3,265.3 377.7,259.4 378.1,266.5 378.5,271.2 378.9,254.3 379.3,245.3 379.7,250.4 380.1,267.3 380.5,267.7 380.9,251.0 381.3,255.2 381.7,254.0 382.1,252.9 382.5,261.3 382.9,244.9 383.3,263.8 383.7,246.7 384.1,256.8 384.5,262.3 384.9,257.2 385.3,271.2 385.7,268.4 386.1,256.8 386.5,264.8 386.9,255.4 387.3,249.4 387.7,254.8 388.1,262.7 388.5,255.3 388.9,260.7 389.3,262.3 389.7,260.9 390.1,263.0 390.5,270.2 390.9,274.3 391.3,275.1 391.7,260.2 392.1,276.4 392.5,253.7 392.9,264.7 393.3,262.3 393.7,257.8 394.1,251.0 394.4,266.0 394.8,266.4 395.2,259.1 395.6,266.4 396.0,256.4 396.4,267.9 396.8,260.7 397.2,262.5 397.6,264.9 398.0,266.6 398.4,267.0 398.8,260.3 399.2,263.8 399.6,252.9 400.0,273.2 400.4,256.4 400.8,257.0 401.2,250.8 401.6,261.4 402.0,253.3 402.4,260.2 402.8,261.5 403.2,250.6 403.6,256.3 404.0,263.1 404.4,269.0 404.8,253.6 405.2,254.0 405.6,271.2 406.0,260.6 406.4,249.0 406.8,261.0 407.2,247.0 407.6,256.3 408.0,267.6 408.4,264.6 408.8,252.7 409.2,256.7 409.6,249.3 410.0,263.9 410.4,261.2 410.8,247.1 411.2,258.4 411.6,271.3 412.0,259.4 412.4,261.8 412.8,276.5 413.2,259.0 413.6,256.6 414.0,251.2 414.3,264.8 414.7,255.0 415.1,275.9 415.5,254.0 415.9,263.0 416.3,270.3 416.7,261.2 417.1,256.9 417.5,274.6 417.9,253.1 418.3,246.5 418.7,258.1 419.1,250.6 419.5,262.7 419.9,267.5 420.3,256.2 420.7,243.2 421.1,257.9 421.5,266.2 421.9,264.9 422.3,258.4 422.7,260.9 423.1,267.3 423.5,254.0 423.9,263.7 424.3,254.8 424.7,274.2 425.1,258.5 425.5,267.4 425.9,260.1 426.3,255.9 426.7,252.9 427.1,259.7 427.5,260.7 427.9,262.1 428.3,264.1 428.7,251.7 429.1,254.1 429.5,276.6 429.9,262.4 430.3,257.2 430.7,262.2 431.1,265.9 431.5,266.2 431.9,268.4 432.3,268.7 432.7,255.0 433.1,258.4 433.5,259.9 433.9,256.5 434.2,260.4 434.6,260.6 435.0,267.7 435.4,257.9 435.8,266.0 436.2,261.9 436.6,262.6 437.0,252.8 437.4,261.0 437.8,261.1 438.2,268.8 438.6,267.7 439.0,269.0 439.4,262.8 439.8,258.2 440.2,258.3 440.6,264.9 441.0,267.9 441.4,253.7 441.8,262.1 442.2,269.4 442.6,262.0 443.0,261.7 443.4,262.4 443.8,263.5 444.2,269.0 444.6,253.9 445.0,276.6 445.4,252.8 445.8,269.3 446.2,260.4 446.6,266.5 447.0,269.4 447.4,276.6 447.8,263.6 448.2,270.8 448.6,261.3 449.0,261.0 449.4,264.4 449.8,276.6 450.2,269.4 450.6,256.3 451.0,263.1 451.4,258.7 451.8,267.0 452.2,259.0 452.6,261.2 453.0,249.3 453.4,258.7 453.8,254.6 454.1,266.9 454.5,264.7 454.9,261.1 455.3,262.1 455.7,260.6 456.1,264.5 456.5,267.8 456.9,258.0 457.3,256.5 457.7,264.4 458.1,262.5 458.5,244.0 458.9,261.1 459.3,254.1 459.7,272.4 460.1,249.0 460.5,268.1 460.9,258.8 461.3,257.9 461.7,256.0 462.1,260.9 462.5,258.1 462.9,255.5 463.3,256.9 463.7,263.7" fill="none" stroke="#000" stroke-width="2.6" stroke-linejoin="round"/>
<path d="M66.1,256.1 66.5,261.3 66.9,261.3 67.3,263.3 67.7,257.3 68.1,250.0 68.5,251.7 68.9,251.3 69.3,267.5 69.7,266.7 70.1,245.0 70.5,249.0 70.9,240.6 71.3,247.4 71.7,262.9 72.1,246.8 72.5,251.4 72.9,254.3 73.3,261.4 73.7,255.7 74.1,256.8 74.5,249.6 74.9,254.9 75.3,244.8 75.7,261.1 76.0,252.5 76.4,252.3 76.8,261.7 77.2,263.9 77.6,248.7 78.0,252.2 78.4,256.9 78.8,253.0 79.2,260.4 79.6,254.1 80.0,260.0 80.4,254.4 80.8,248.9 81.2,258.1 81.6,249.9 82.0,262.9 82.4,257.8 82.8,265.2 83.2,256.5 83.6,255.2 84.0,257.1 84.4,257.6 84.8,246.5 85.2,245.9 85.6,264.2 86.0,247.6 86.4,267.7 86.8,260.8 87.2,257.0 87.6,255.0 88.0,263.0 88.4,260.8 88.8,255.2 89.2,260.6 89.6,260.2 90.0,251.1 90.4,249.3 90.8,256.2 91.2,255.6 91.6,255.9 92.0,258.9 92.4,259.3 92.8,263.0 93.2,251.3 93.6,256.3 94.0,256.7 94.4,254.4 94.8,252.1 95.2,245.9 95.6,257.7 95.9,258.5 96.3,254.4 96.7,261.6 97.1,246.9 97.5,249.3 97.9,250.9 98.3,256.6 98.7,250.6 99.1,248.5 99.5,252.3 99.9,257.7 100.3,267.4 100.7,249.2 101.1,258.2 101.5,261.6 101.9,249.6 102.3,253.4 102.7,265.6 103.1,256.4 103.5,257.6 103.9,248.9 104.3,268.9 104.7,258.4 105.1,256.7 105.5,245.9 105.9,263.3 106.3,272.4 106.7,265.4 107.1,253.9 107.5,250.1 107.9,243.7 108.3,253.0 108.7,261.3 109.1,249.6 109.5,255.8 109.9,257.1 110.3,255.6 110.7,246.9 111.1,262.0 111.5,262.9 111.9,256.2 112.3,256.2 112.7,261.4 113.1,261.9 113.5,253.1 113.9,246.5 114.3,250.8 114.7,251.0 115.1,247.1 115.5,269.6 115.8,266.2 116.2,260.6 116.6,264.0 117.0,262.5 117.4,255.0 117.8,264.3 118.2,258.3 118.6,269.3 119.0,261.7 119.4,245.4 119.8,258.4 120.2,252.2 120.6,249.3 121.0,257.4 121.4,249.8 121.8,252.1 122.2,248.6 122.6,257.6 123.0,262.9 123.4,259.8 123.8,256.3 124.2,248.4 124.6,253.3 125.0,254.3 125.4,252.5 125.8,243.2 126.2,254.5 126.6,239.7 127.0,258.3 127.4,253.5 127.8,243.1 128.2,245.0 128.6,254.1 129.0,248.5 129.4,252.2 129.8,240.9 130.2,242.6 130.6,250.8 131.0,242.6 131.4,247.5 131.8,244.9 132.2,243.4 132.6,247.3 133.0,239.9 133.4,239.1 133.8,238.8 134.2,233.5 134.6,242.5 135.0,250.3 135.4,242.8 135.7,237.4 136.1,238.1 136.5,233.6 136.9,231.4 137.3,237.2 137.7,236.5 138.1,242.0 138.5,227.3 138.9,235.7 139.3,240.7 139.7,240.3 140.1,234.8 140.5,220.5 140.9,225.2 141.3,241.7 141.7,230.1 142.1,226.7 142.5,223.5 142.9,224.8 143.3,230.9 143.7,223.0 144.1,229.0 144.5,240.0 144.9,228.6 145.3,227.8 145.7,215.7 146.1,214.3 146.5,228.2 146.9,219.0 147.3,218.9 147.7,228.8 148.1,232.4 148.5,218.1 148.9,215.8 149.3,220.1 149.7,232.0 150.1,214.8 150.5,217.9 150.9,219.4 151.3,214.7 151.7,219.6 152.1,207.1 152.5,210.2 152.9,213.4 153.3,206.8 153.7,208.2 154.1,217.7 154.5,207.4 154.9,208.8 155.3,216.9 155.6,208.5 156.0,200.2 156.4,206.6 156.8,191.7 157.2,188.8 157.6,201.8 158.0,195.0 158.4,184.1 158.8,199.4 159.2,202.4 159.6,198.2 160.0,203.9 160.4,202.8 160.8,191.0 161.2,194.4 161.6,188.9 162.0,186.3 162.4,194.0 162.8,189.1 163.2,188.7 163.6,190.5 164.0,190.6 164.4,181.7 164.8,183.8 165.2,179.6 165.6,173.9 166.0,172.9 166.4,186.6 166.8,183.8 167.2,178.6 167.6,175.0 168.0,168.3 168.4,180.5 168.8,175.8 169.2,170.1 169.6,162.2 170.0,160.1 170.4,175.7 170.8,169.1 171.2,172.2 171.6,159.7 172.0,161.4 172.4,166.0 172.8,166.7 173.2,159.3 173.6,153.4 174.0,164.4 174.4,160.2 174.8,155.9 175.2,155.4 175.5,151.9 175.9,159.9 176.3,155.9 176.7,165.0 177.1,148.8 177.5,140.4 177.9,160.8 178.3,149.6 178.7,137.7 179.1,143.6 179.5,154.4 179.9,131.9 180.3,148.6 180.7,127.9 181.1,140.1 181.5,139.7 181.9,133.4 182.3,132.5 182.7,126.9 183.1,126.4 183.5,129.8 183.9,118.4 184.3,121.5 184.7,123.5 185.1,123.4 185.5,124.0 185.9,122.9 186.3,116.8 186.7,117.3 187.1,119.4 187.5,111.8 187.9,119.9 188.3,114.2 188.7,110.4 189.1,123.2 189.5,116.5 189.9,102.3 190.3,119.7 190.7,104.4 191.1,119.1 191.5,108.3 191.9,118.0 192.3,114.5 192.7,112.6 193.1,113.6 193.5,102.7 193.9,103.9 194.3,103.7 194.7,108.4 195.1,98.5 195.4,102.8 195.8,107.7 196.2,117.4 196.6,105.5 197.0,105.8 197.4,109.8 197.8,105.7 198.2,105.5 198.6,113.0 199.0,107.2 199.4,108.9 199.8,109.4 200.2,114.1 200.6,115.1 201.0,111.3 201.4,102.4 201.8,96.4 202.2,115.4 202.6,120.3 203.0,115.7 203.4,119.4 203.8,116.8 204.2,111.5 204.6,120.9 205.0,110.7 205.4,109.9 205.8,105.3 206.2,103.6 206.6,109.8 207.0,101.5 207.4,121.2 207.8,116.4 208.2,117.6 208.6,116.3 209.0,112.8 209.4,122.8 209.8,109.2 210.2,112.9 210.6,119.9 211.0,119.7 211.4,130.3 211.8,140.9 212.2,125.6 212.6,123.5 213.0,125.0 213.4,135.0 213.8,131.4 214.2,117.1 214.6,125.2 215.0,126.9 215.3,134.3 215.7,128.1 216.1,125.3 216.5,130.0 216.9,139.1 217.3,135.4 217.7,144.4 218.1,141.5 218.5,136.3 218.9,145.0 219.3,143.9 219.7,133.3 220.1,145.3 220.5,139.7 220.9,147.9 221.3,154.6 221.7,147.6 222.1,150.9 222.5,163.1 222.9,158.4 223.3,153.9 223.7,141.6 224.1,156.6 224.5,153.7 224.9,149.9 225.3,153.1 225.7,158.2 226.1,145.0 226.5,148.3 226.9,175.1 227.3,152.5 227.7,156.2 228.1,153.9 228.5,160.9 228.9,156.6 229.3,149.8 229.7,152.1 230.1,152.3 230.5,158.2 230.9,159.8 231.3,160.5 231.7,175.5 232.1,152.9 232.5,167.7 232.9,167.9 233.3,170.0 233.7,168.4 234.1,187.0 234.5,171.6 234.9,182.7 235.2,181.6 235.6,188.3 236.0,188.2 236.4,173.1 236.8,181.3 237.2,179.4 237.6,180.7 238.0,188.3 238.4,186.0 238.8,190.6 239.2,184.8 239.6,198.8 240.0,187.0 240.4,178.8 240.8,177.6 241.2,178.9 241.6,184.2 242.0,195.3 242.4,183.0 242.8,186.5 243.2,189.1 243.6,200.2 244.0,190.0 244.4,183.9 244.8,189.4 245.2,197.0 245.6,192.5 246.0,197.2 246.4,196.9 246.8,193.2 247.2,197.6 247.6,200.4 248.0,199.1 248.4,208.4 248.8,210.5 249.2,201.2 249.6,209.5 250.0,202.5 250.4,219.9 250.8,199.9 251.2,209.7 251.6,198.4 252.0,227.4 252.4,223.2 252.8,202.7 253.2,212.1 253.6,211.9 254.0,213.9 254.4,214.4 254.8,212.5 255.1,223.9 255.5,218.8 255.9,209.4 256.3,217.8 256.7,223.9 257.1,219.6 257.5,213.7 257.9,222.8 258.3,223.3 258.7,219.2 259.1,217.3 259.5,213.6 259.9,225.2 260.3,222.5 260.7,218.3 261.1,239.1 261.5,225.6 261.9,223.9 262.3,228.2 262.7,234.0 263.1,224.6 263.5,220.6 263.9,230.3 264.3,233.5 264.7,232.2 265.1,220.4 265.5,223.1 265.9,231.8 266.3,240.2 266.7,241.8 267.1,235.7 267.5,236.1 267.9,232.6 268.3,242.7 268.7,236.2 269.1,232.1 269.5,247.8 269.9,220.7 270.3,233.0 270.7,233.8 271.1,246.8 271.5,245.3 271.9,231.5 272.3,232.8 272.7,256.2 273.1,231.7 273.5,235.0 273.9,236.1 274.3,248.5 274.7,239.3 275.0,245.6 275.4,237.9 275.8,229.4 276.2,238.0 276.6,235.7 277.0,245.2 277.4,250.4 277.8,243.5 278.2,236.8 278.6,234.1 279.0,244.9 279.4,243.1 279.8,247.9 280.2,257.3 280.6,245.1 281.0,243.6 281.4,249.1 281.8,247.7 282.2,259.3 282.6,246.7 283.0,237.8 283.4,247.8 283.8,243.8 284.2,245.1 284.6,253.7 285.0,247.2 285.4,254.6 285.8,232.9 286.2,248.0 286.6,257.2 287.0,260.5 287.4,239.8 287.8,246.1 288.2,247.8 288.6,260.2 289.0,254.9 289.4,259.6 289.8,243.8 290.2,255.2 290.6,238.4 291.0,248.4 291.4,254.4 291.8,243.0 292.2,267.0 292.6,258.4 293.0,255.5 293.4,245.5 293.8,245.6 294.2,250.7 294.6,265.6 294.9,257.1 295.3,261.2 295.7,245.0 296.1,256.8 296.5,249.8 296.9,241.1 297.3,254.6 297.7,249.3 298.1,256.9 298.5,254.1 298.9,254.2 299.3,254.5 299.7,254.2 300.1,257.5 300.5,242.0 300.9,259.5 301.3,253.4 301.7,257.3 302.1,271.0 302.5,248.7 302.9,253.9 303.3,265.1 303.7,260.8 304.1,267.0 304.5,253.9 304.9,245.2 305.3,247.7 305.7,265.2 306.1,268.2 306.5,252.7 306.9,244.8 307.3,256.2 307.7,249.4 308.1,266.4 308.5,257.6 308.9,253.9 309.3,259.8 309.7,258.6 310.1,252.4 310.5,261.6 310.9,264.2 311.3,252.2 311.7,255.8 312.1,264.4 312.5,254.6 312.9,261.6 313.3,253.3 313.7,257.9 314.1,259.8 314.5,263.3 314.8,256.6 315.2,258.3 315.6,245.0 316.0,258.4 316.4,267.5 316.8,243.9 317.2,272.4 317.6,246.9 318.0,264.4 318.4,248.8 318.8,259.7 319.2,254.7 319.6,258.3 320.0,259.3 320.4,255.0 320.8,263.1 321.2,255.3 321.6,266.2 322.0,263.8 322.4,262.3 322.8,259.4 323.2,250.3 323.6,264.6 324.0,264.8 324.4,266.6 324.8,261.7 325.2,255.0 325.6,264.0 326.0,260.9 326.4,263.0 326.8,258.3 327.2,272.9 327.6,254.8 328.0,252.5 328.4,264.7 328.8,259.4 329.2,265.3 329.6,252.0 330.0,254.6 330.4,242.4 330.8,260.4 331.2,265.0 331.6,262.3 332.0,267.7 332.4,257.5 332.8,256.8 333.2,252.6 333.6,256.2 334.0,261.8 334.4,250.0 334.7,254.9 335.1,253.2 335.5,267.1 335.9,264.8 336.3,263.4 336.7,261.7 337.1,274.1 337.5,250.6 337.9,260.4 338.3,253.1 338.7,253.6 339.1,248.6 339.5,255.0 339.9,256.3 340.3,264.0 340.7,258.0 341.1,246.7 341.5,271.1 341.9,263.8 342.3,257.0 342.7,247.6 343.1,266.5 343.5,262.0 343.9,257.8 344.3,242.6 344.7,264.8 345.1,259.9 345.5,253.6 345.9,263.6 346.3,256.1 346.7,255.9 347.1,261.2 347.5,256.3 347.9,246.8 348.3,257.8 348.7,261.7 349.1,263.9 349.5,257.1 349.9,251.5 350.3,257.7 350.7,256.5 351.1,242.7 351.5,264.0 351.9,266.2 352.3,256.8 352.7,260.2 353.1,254.7 353.5,250.1 353.9,256.2 354.3,260.1 354.6,255.1 355.0,255.4 355.4,259.4 355.8,262.7 356.2,254.1 356.6,260.1 357.0,266.7 357.4,254.0 357.8,262.4 358.2,262.5 358.6,254.3 359.0,264.2 359.4,260.0 359.8,265.6 360.2,269.4 360.6,256.8 361.0,248.1 361.4,264.9 361.8,250.8 362.2,251.5 362.6,248.5 363.0,266.3 363.4,263.4 363.8,247.5 364.2,259.3 364.6,259.0 365.0,254.0 365.4,254.7 365.8,262.7 366.2,260.4 366.6,254.5 367.0,257.0 367.4,263.9 367.8,250.0 368.2,253.0 368.6,261.1 369.0,262.7 369.4,252.5 369.8,275.6 370.2,258.1 370.6,263.0 371.0,263.5 371.4,252.7 371.8,256.7 372.2,242.9 372.6,260.3 373.0,256.3 373.4,268.5 373.8,251.8 374.2,262.9 374.5,257.2 374.9,249.8 375.3,250.6 375.7,255.4 376.1,249.9 376.5,261.8 376.9,265.2 377.3,269.3 377.7,254.9 378.1,245.2 378.5,261.0 378.9,258.7 379.3,261.0 379.7,255.4 380.1,271.4 380.5,252.9 380.9,251.3 381.3,263.5 381.7,265.8 382.1,264.9 382.5,255.0 382.9,248.8 383.3,265.7 383.7,269.5 384.1,258.2 384.5,257.0 384.9,254.0 385.3,263.7 385.7,253.8 386.1,251.3 386.5,270.3 386.9,261.0 387.3,254.7 387.7,253.7 388.1,262.8 388.5,272.5 388.9,264.4 389.3,268.9 389.7,262.7 390.1,252.0 390.5,263.5 390.9,258.6 391.3,267.5 391.7,252.7 392.1,263.5 392.5,266.4 392.9,246.3 393.3,256.9 393.7,254.5 394.1,273.0 394.4,249.4 394.8,247.3 395.2,260.2 395.6,261.3 396.0,263.3 396.4,251.8 396.8,270.1 397.2,257.0 397.6,245.5 398.0,258.3 398.4,245.6 398.8,259.1 399.2,261.4 399.6,253.0 400.0,259.8 400.4,258.6 400.8,262.1 401.2,267.7 401.6,261.5 402.0,254.4 402.4,251.9 402.8,259.8 403.2,257.2 403.6,265.8 404.0,260.6 404.4,260.4 404.8,260.3 405.2,258.9 405.6,256.9 406.0,250.9 406.4,254.0 406.8,255.8 407.2,267.8 407.6,264.9 408.0,259.0 408.4,258.6 408.8,254.3 409.2,271.5 409.6,258.1 410.0,258.5 410.4,261.7 410.8,264.8 411.2,257.8 411.6,260.4 412.0,256.1 412.4,273.2 412.8,265.6 413.2,248.8 413.6,257.7 414.0,264.7 414.3,261.5 414.7,268.3 415.1,249.5 415.5,249.4 415.9,253.2 416.3,251.0 416.7,256.0 417.1,250.2 417.5,254.9 417.9,249.5 418.3,259.4 418.7,259.8 419.1,263.1 419.5,262.4 419.9,270.1 420.3,250.1 420.7,249.5 421.1,254.2 421.5,252.3 421.9,257.6 422.3,255.8 422.7,268.5 423.1,259.7 423.5,271.7 423.9,263.9 424.3,261.2 424.7,261.4 425.1,266.5 425.5,250.4 425.9,252.4 426.3,262.8 426.7,267.7 427.1,262.6 427.5,252.8 427.9,272.4 428.3,253.7 428.7,260.1 429.1,262.0 429.5,252.3 429.9,259.1 430.3,261.7 430.7,250.7 431.1,270.2 431.5,248.2 431.9,265.1 432.3,265.0 432.7,248.4 433.1,243.3 433.5,250.8 433.9,265.0 434.2,274.2 434.6,257.6 435.0,259.2 435.4,263.3 435.8,260.1 436.2,263.9 436.6,253.5 437.0,259.8 437.4,260.7 437.8,274.4 438.2,257.5 438.6,269.3 439.0,254.2 439.4,259.5 439.8,273.2 440.2,261.6 440.6,267.5 441.0,255.5 441.4,256.3 441.8,252.1 442.2,264.6 442.6,256.0 443.0,268.8 443.4,257.1 443.8,261.0 444.2,257.8 444.6,259.5 445.0,252.4 445.4,261.8 445.8,260.7 446.2,249.8 446.6,259.9 447.0,263.1 447.4,265.6 447.8,259.3 448.2,259.7 448.6,255.0 449.0,260.6 449.4,254.7 449.8,261.2 450.2,248.5 450.6,259.8 451.0,254.8 451.4,256.8 451.8,268.5 452.2,252.3 452.6,262.3 453.0,253.1 453.4,273.2 453.8,272.2 454.1,273.2 454.5,271.8 454.9,262.2 455.3,259.8 455.7,266.3 456.1,261.9 456.5,264.3 456.9,254.5 457.3,254.7 457.7,257.5 458.1,255.1 458.5,247.8 458.9,255.1 459.3,270.0 459.7,261.0 460.1,261.7 460.5,254.0 460.9,256.3 461.3,253.7 461.7,270.2 462.1,250.0 462.5,260.7 462.9,253.0 463.3,256.3 463.7,265.7" fill="none" stroke="#000" stroke-width="2.6" stroke-linejoin="round"/>
<path d="M583.7,265.2 584.1,263.6 584.5,269.3 584.9,272.9 585.3,268.7 585.7,267.3 586.1,270.2 586.5,266.8 586.9,262.6 587.3,268.7 587.7,268.1 588.1,265.4 588.5,267.1 588.9,265.8 589.3,267.9 589.7,263.2 590.1,271.7 590.5,267.2 590.9,273.4 591.3,259.2 591.7,268.4 592.0,272.6 592.4,262.6 592.8,261.5 593.2,270.4 593.6,269.4 594.0,271.2 594.4,268.7 594.8,268.1 595.2,269.6 595.6,269.3 596.0,270.0 596.4,272.8 596.8,271.8 597.2,256.8 597.6,271.3 598.0,264.4 598.4,262.5 598.8,266.9 599.2,266.5 599.6,269.6 600.0,271.5 600.4,260.1 600.8,270.0 601.2,260.8 601.6,264.9 602.0,262.7 602.4,268.6 602.8,268.4 603.2,268.2 603.6,271.3 604.0,268.3 604.4,272.5 604.8,266.7 605.2,270.2 605.6,268.1 606.0,267.4 606.4,269.1 606.8,264.9 607.2,253.9 607.6,259.5 608.0,268.1 608.4,268.1 608.7,269.1 609.1,267.3 609.5,268.8 609.9,266.7 610.3,268.2 610.7,260.6 611.1,268.4 611.5,263.5 611.9,268.5 612.3,267.1 612.7,266.4 613.1,254.4 613.5,269.4 613.9,266.5 614.3,268.6 614.7,270.4 615.1,268.6 615.5,271.1 615.9,267.1 616.3,267.4 616.7,264.0 617.1,267.2 617.5,268.4 617.9,271.5 618.3,268.1 618.7,270.2 619.1,267.4 619.5,269.9 619.9,268.1 620.3,262.0 620.7,268.3 621.1,259.8 621.5,268.9 621.9,264.0 622.3,263.9 622.7,264.7 623.1,262.7 623.5,266.7 623.9,266.4 624.3,268.8 624.7,266.2 625.1,258.1 625.4,266.6 625.8,261.2 626.2,276.5 626.6,268.6 627.0,268.3 627.4,262.0 627.8,275.4 628.2,275.0 628.6,267.4 629.0,262.4 629.4,269.8 629.8,260.7 630.2,268.1 630.6,267.9 631.0,268.4 631.4,268.2 631.8,269.9 632.2,259.1 632.6,270.2 633.0,278.4 633.4,261.6 633.8,261.7 634.2,274.9 634.6,267.7 635.0,265.9 635.4,277.7 635.8,266.6 636.2,268.6 636.6,268.8 637.0,266.1 637.4,261.2 637.8,261.6 638.2,263.0 638.6,267.3 639.0,259.9 639.4,258.8 639.8,257.0 640.2,266.4 640.6,267.7 641.0,266.0 641.4,266.2 641.7,271.4 642.1,266.2 642.5,269.9 642.9,267.2 643.3,273.2 643.7,263.9 644.1,264.2 644.5,262.0 644.9,268.6 645.3,271.7 645.7,272.1 646.1,264.0 646.5,267.0 646.9,274.1 647.3,266.5 647.7,270.5 648.1,269.3 648.5,265.2 648.9,271.6 649.3,266.5 649.7,269.3 650.1,266.1 650.5,273.7 650.9,261.4 651.3,262.0 651.7,270.2 652.1,266.1 652.5,274.5 652.9,252.4 653.3,266.0 653.7,264.9 654.1,271.0 654.5,268.3 654.9,268.7 655.3,267.8 655.7,266.6 656.1,265.9 656.5,267.3 656.9,276.7 657.3,260.4 657.7,264.8 658.1,264.9 658.4,257.0 658.8,273.2 659.2,270.2 659.6,252.1 660.0,266.9 660.4,262.7 660.8,264.7 661.2,267.8 661.6,268.3 662.0,263.5 662.4,265.7 662.8,269.1 663.2,266.6 663.6,272.5 664.0,251.8 664.4,270.0 664.8,264.5 665.2,266.4 665.6,269.4 666.0,268.0 666.4,263.2 666.8,270.5 667.2,268.1 667.6,263.6 668.0,267.0 668.4,277.0 668.8,262.4 669.2,275.5 669.6,265.9 670.0,266.9 670.4,265.9 670.8,263.3 671.2,270.2 671.6,268.5 672.0,269.5 672.4,276.3 672.8,264.4 673.2,262.9 673.6,252.8 674.0,263.5 674.4,262.0 674.7,267.5 675.1,263.4 675.5,267.2 675.9,258.3 676.3,266.6 676.7,262.7 677.1,259.0 677.5,269.2 677.9,268.6 678.3,260.9 678.7,255.5 679.1,253.2 679.5,262.1 679.9,256.9 680.3,250.7 680.7,258.3 681.1,253.7 681.5,257.9 681.9,255.8 682.3,262.1 682.7,253.6 683.1,255.7 683.5,263.8 683.9,252.5 684.3,252.5 684.7,252.8 685.1,258.8 685.5,252.5 685.9,255.2 686.3,248.9 686.7,250.5 687.1,244.3 687.5,251.6 687.9,252.0 688.3,251.0 688.7,249.9 689.1,245.2 689.5,247.3 689.9,247.0 690.3,246.1 690.7,250.4 691.1,246.9 691.4,234.8 691.8,238.0 692.2,237.5 692.6,242.5 693.0,246.8 693.4,241.8 693.8,233.8 694.2,236.1 694.6,248.3 695.0,237.6 695.4,237.4 695.8,237.4 696.2,236.9 696.6,236.3 697.0,240.1 697.4,236.4 697.8,236.2 698.2,247.3 698.6,243.0 699.0,233.9 699.4,233.3 699.8,243.3 700.2,234.8 700.6,222.3 701.0,231.8 701.4,231.3 701.8,229.0 702.2,229.7 702.6,226.4 703.0,227.7 703.4,228.7 703.8,233.1 704.2,232.7 704.6,225.0 705.0,229.7 705.4,228.2 705.8,227.4 706.2,216.1 706.6,225.3 707.0,232.1 707.4,221.3 707.8,219.9 708.1,221.8 708.5,221.1 708.9,215.8 709.3,225.5 709.7,218.0 710.1,212.0 710.5,214.1 710.9,217.4 711.3,217.8 711.7,215.4 712.1,215.7 712.5,203.1 712.9,211.7 713.3,225.1 713.7,219.9 714.1,220.4 714.5,223.5 714.9,208.9 715.3,211.8 715.7,206.6 716.1,213.4 716.5,213.2 716.9,211.9 717.3,210.8 717.7,206.7 718.1,207.6 718.5,203.6 718.9,209.1 719.3,213.4 719.7,206.6 720.1,202.8 720.5,202.1 720.9,207.6 721.3,207.8 721.7,194.9 722.1,204.1 722.5,199.0 722.9,197.5 723.3,205.2 723.7,202.7 724.1,196.8 724.4,197.3 724.8,190.1 725.2,199.2 725.6,198.9 726.0,187.9 726.4,189.8 726.8,198.2 727.2,199.6 727.6,194.7 728.0,198.5 728.4,197.3 728.8,200.7 729.2,188.3 729.6,199.0 730.0,194.7 730.4,191.4 730.8,192.8 731.2,197.0 731.6,198.1 732.0,199.7 732.4,194.1 732.8,194.8 733.2,198.9 733.6,196.7 734.0,185.6 734.4,193.7 734.8,203.3 735.2,190.2 735.6,201.6 736.0,188.9 736.4,199.6 736.8,191.9 737.2,187.1 737.6,197.4 738.0,182.6 738.4,189.5 738.8,191.9 739.2,190.8 739.6,180.3 740.0,191.9 740.4,190.4 740.8,197.1 741.1,193.4 741.5,190.2 741.9,193.2 742.3,194.8 742.7,186.2 743.1,192.8 743.5,192.1 743.9,192.7 744.3,191.4 744.7,192.9 745.1,195.2 745.5,186.4 745.9,194.2 746.3,189.2 746.7,189.5 747.1,192.1 747.5,193.6 747.9,196.6 748.3,185.2 748.7,197.3 749.1,192.1 749.5,192.8 749.9,193.2 750.3,195.2 750.7,191.7 751.1,185.5 751.5,188.1 751.9,195.6 752.3,185.1 752.7,185.7 753.1,192.2 753.5,193.2 753.9,195.5 754.3,192.0 754.7,191.8 755.1,190.9 755.5,192.4 755.9,197.1 756.3,204.8 756.7,191.5 757.1,185.2 757.5,195.6 757.8,190.5 758.2,193.5 758.6,186.8 759.0,194.2 759.4,192.2 759.8,205.5 760.2,193.2 760.6,191.9 761.0,180.5 761.4,186.2 761.8,197.7 762.2,188.3 762.6,205.6 763.0,193.9 763.4,191.7 763.8,185.5 764.2,192.1 764.6,196.1 765.0,190.7 765.4,185.8 765.8,198.7 766.2,190.7 766.6,189.0 767.0,191.4 767.4,195.0 767.8,192.3 768.2,191.9 768.6,194.6 769.0,185.0 769.4,197.8 769.8,196.6 770.2,199.1 770.6,189.5 771.0,190.1 771.4,198.8 771.8,192.9 772.2,194.0 772.6,193.1 773.0,192.2 773.4,188.9 773.8,193.4 774.1,187.3 774.5,192.2 774.9,193.5 775.3,191.9 775.7,202.5 776.1,193.5 776.5,195.5 776.9,195.2 777.3,191.6 777.7,192.4 778.1,186.1 778.5,193.9 778.9,196.0 779.3,194.0 779.7,186.1 780.1,201.0 780.5,195.2 780.9,196.1 781.3,196.6 781.7,194.6 782.1,197.6 782.5,187.5 782.9,187.1 783.3,196.0 783.7,196.9 784.1,199.3 784.5,198.7 784.9,195.8 785.3,206.4 785.7,198.0 786.1,200.0 786.5,203.3 786.9,202.1 787.3,202.1 787.7,204.3 788.1,202.2 788.5,199.9 788.9,202.8 789.3,198.7 789.7,203.0 790.1,205.4 790.5,206.0 790.8,198.1 791.2,201.1 791.6,206.7 792.0,213.0 792.4,205.5 792.8,207.8 793.2,205.7 793.6,206.7 794.0,207.8 794.4,206.4 794.8,208.6 795.2,214.0 795.6,208.9 796.0,211.7 796.4,216.4 796.8,210.1 797.2,208.5 797.6,210.3 798.0,210.4 798.4,211.4 798.8,213.0 799.2,208.9 799.6,212.9 800.0,210.8 800.4,208.2 800.8,214.7 801.2,214.3 801.6,213.3 802.0,208.1 802.4,214.4 802.8,212.3 803.2,211.8 803.6,215.1 804.0,213.3 804.4,214.7 804.8,210.4 805.2,202.0 805.6,209.1 806.0,216.0 806.4,223.6 806.8,209.0 807.1,214.6 807.5,213.0 807.9,213.4 808.3,213.7 808.7,218.2 809.1,216.7 809.5,215.8 809.9,226.4 810.3,220.4 810.7,216.0 811.1,213.0 811.5,219.6 811.9,222.2 812.3,219.9 812.7,221.2 813.1,215.6 813.5,228.5 813.9,218.2 814.3,218.0 814.7,218.8 815.1,214.8 815.5,219.5 815.9,219.0 816.3,213.3 816.7,220.8 817.1,225.1 817.5,218.9 817.9,222.9 818.3,222.1 818.7,222.9 819.1,212.4 819.5,223.1 819.9,219.6 820.3,222.1 820.7,220.2 821.1,219.7 821.5,219.6 821.9,222.1 822.3,223.7 822.7,223.3 823.1,224.9 823.5,225.7 823.8,218.8 824.2,223.2 824.6,226.8 825.0,222.0 825.4,226.4 825.8,222.4 826.2,227.8 826.6,220.5 827.0,224.6 827.4,238.6 827.8,224.6 828.2,221.7 828.6,226.2 829.0,217.5 829.4,223.4 829.8,225.2 830.2,227.5 830.6,229.5 831.0,226.6 831.4,223.4 831.8,225.9 832.2,227.4 832.6,220.3 833.0,236.9 833.4,224.8 833.8,228.2 834.2,232.3 834.6,226.8 835.0,225.8 835.4,227.6 835.8,232.6 836.2,231.9 836.6,230.3 837.0,228.8 837.4,227.8 837.8,226.7 838.2,228.6 838.6,233.1 839.0,231.5 839.4,226.8 839.8,224.6 840.2,225.2 840.5,229.1 840.9,226.8 841.3,229.1 841.7,223.3 842.1,229.3 842.5,225.4 842.9,227.9 843.3,227.7 843.7,225.8 844.1,229.0 844.5,222.1 844.9,228.1 845.3,226.6 845.7,236.7 846.1,229.0 846.5,228.3 846.9,229.0 847.3,229.5 847.7,229.2 848.1,227.7 848.5,221.6 848.9,227.2 849.3,219.8 849.7,224.8 850.1,227.0 850.5,227.8 850.9,226.7 851.3,222.2 851.7,223.7 852.1,224.9 852.5,219.3 852.9,228.4 853.3,223.6 853.7,221.2 854.1,227.1 854.5,221.5 854.9,226.9 855.3,225.7 855.7,224.5 856.1,223.9 856.5,222.7 856.8,223.4 857.2,229.9 857.6,226.9 858.0,224.8 858.4,228.5 858.8,226.6 859.2,222.8 859.6,224.7 860.0,233.0 860.4,227.3 860.8,215.1 861.2,221.6 861.6,222.0 862.0,220.3 862.4,226.5 862.8,217.8 863.2,225.7 863.6,224.4 864.0,222.3 864.4,223.1 864.8,219.4 865.2,219.2 865.6,227.0 866.0,218.5 866.4,209.0 866.8,226.8 867.2,223.8 867.6,233.7 868.0,221.1 868.4,222.9 868.8,220.1 869.2,214.1 869.6,219.9 870.0,221.8 870.4,222.9 870.8,212.8 871.2,214.5 871.6,225.0 872.0,218.2 872.4,221.2 872.8,217.9 873.2,221.0 873.5,221.1 873.9,215.7 874.3,210.4 874.7,217.1 875.1,214.9 875.5,224.2 875.9,217.5 876.3,210.7 876.7,217.8 877.1,212.4 877.5,217.5 877.9,214.9 878.3,214.6 878.7,214.9 879.1,226.7 879.5,222.7 879.9,220.0 880.3,217.0 880.7,216.5 881.1,214.5 881.5,210.1 881.9,218.6 882.3,211.9 882.7,205.2 883.1,209.9 883.5,215.6 883.9,215.3 884.3,217.1 884.7,214.8 885.1,215.8 885.5,213.9 885.9,213.9 886.3,212.1 886.7,212.1 887.1,224.3 887.5,213.7 887.9,214.9 888.3,214.0 888.7,210.4 889.1,216.3 889.5,220.6 889.9,212.4 890.2,204.1 890.6,214.7 891.0,212.4 891.4,210.8 891.8,206.4 892.2,221.2 892.6,202.8 893.0,207.5 893.4,211.9 893.8,215.2 894.2,201.8 894.6,209.7 895.0,205.3 895.4,216.4 895.8,210.8 896.2,213.7 896.6,211.5 897.0,210.3 897.4,215.2 897.8,203.2 898.2,211.5 898.6,210.3 899.0,211.7 899.4,211.0 899.8,210.3 900.2,202.9 900.6,214.9 901.0,207.4 901.4,208.5 901.8,199.1 902.2,195.2 902.6,208.6 903.0,206.9 903.4,201.7 903.8,206.6 904.2,205.9 904.6,203.5 905.0,208.6 905.4,205.3 905.8,206.6 906.2,201.7 906.5,203.4 906.9,203.0 907.3,202.2 907.7,217.3 908.1,203.5 908.5,195.4 908.9,206.6 909.3,203.7 909.7,200.2 910.1,208.9 910.5,200.1 910.9,211.3 911.3,201.8 911.7,202.9 912.1,191.4 912.5,201.3 912.9,200.9 913.3,201.3 913.7,198.1 914.1,196.8 914.5,196.8 914.9,195.7 915.3,200.0 915.7,199.1 916.1,201.7 916.5,196.8 916.9,195.1 917.3,199.6 917.7,189.1 918.1,199.2 918.5,199.4 918.9,197.1 919.3,195.9 919.7,206.3 920.1,193.9 920.5,196.4 920.9,197.1 921.3,198.6 921.7,190.7 922.1,189.2 922.5,198.0 922.9,206.4 923.2,198.3 923.6,200.5 924.0,196.9 924.4,196.0 924.8,194.9 925.2,198.3 925.6,194.0 926.0,192.1 926.4,196.2 926.8,196.2 927.2,195.0 927.6,194.7 928.0,197.8 928.4,197.4 928.8,194.8 929.2,193.2 929.6,193.6 930.0,192.5 930.4,186.6 930.8,192.3 931.2,193.7 931.6,197.6 932.0,206.6 932.4,189.9 932.8,191.5 933.2,192.9 933.6,192.3 934.0,194.8 934.4,195.3 934.8,196.1 935.2,193.8 935.6,197.9 936.0,209.2 936.4,199.7 936.8,200.5 937.2,202.3 937.6,202.6 938.0,203.3 938.4,207.0 938.8,208.9 939.2,202.2 939.5,209.7 939.9,218.6 940.3,212.8 940.7,212.4 941.1,221.4 941.5,220.0 941.9,213.8 942.3,201.1 942.7,213.3 943.1,207.9 943.5,219.5 943.9,215.2 944.3,222.6 944.7,218.3 945.1,220.2 945.5,221.9 945.9,227.5 946.3,223.3 946.7,225.5 947.1,233.1 947.5,228.0 947.9,229.4 948.3,237.1 948.7,234.6 949.1,234.9 949.5,228.4 949.9,233.6 950.3,234.9 950.7,237.8 951.1,233.6 951.5,239.4 951.9,236.1 952.3,244.8 952.7,241.7 953.1,240.5 953.5,241.3 953.9,242.1 954.3,243.7 954.7,240.9 955.1,248.1 955.5,242.7 955.9,242.6 956.2,257.4 956.6,252.6 957.0,244.4 957.4,246.9 957.8,246.5 958.2,240.8 958.6,242.1 959.0,247.8 959.4,250.9 959.8,249.7 960.2,249.4 960.6,248.5 961.0,252.9 961.4,248.0 961.8,251.7 962.2,246.5 962.6,249.6 963.0,252.3 963.4,252.3 963.8,250.0 964.2,251.8 964.6,250.6 965.0,241.2 965.4,252.4 965.8,259.8 966.2,249.9 966.6,252.6 967.0,260.3 967.4,253.5 967.8,248.8 968.2,255.4 968.6,249.0 969.0,254.9 969.4,254.8 969.8,259.5 970.2,257.3 970.6,255.6 971.0,241.4 971.4,256.1 971.8,257.8 972.2,247.1 972.6,254.7 972.9,258.6 973.3,248.7 973.7,259.5 974.1,256.0 974.5,249.8 974.9,254.8 975.3,256.0 975.7,254.7 976.1,256.6 976.5,256.3 976.9,256.0 977.3,253.7 977.7,258.4 978.1,256.0 978.5,256.4 978.9,252.1 979.3,253.1 979.7,250.6 980.1,255.9 980.5,261.5 980.9,254.4" fill="none" stroke="#ec1e26" stroke-width="2.6" stroke-linejoin="round"/>
<path d="M583.7,266.5 584.1,276.2 584.5,275.4 584.9,271.3 585.3,257.6 585.7,269.6 586.1,267.3 586.5,256.7 586.9,266.2 587.3,270.8 587.7,268.5 588.1,273.1 588.5,269.8 588.9,269.6 589.3,278.6 589.7,264.2 590.1,262.8 590.5,267.8 590.9,266.9 591.3,267.2 591.7,266.7 592.0,254.1 592.4,267.4 592.8,272.1 593.2,266.3 593.6,266.4 594.0,263.9 594.4,266.5 594.8,269.4 595.2,276.1 595.6,268.3 596.0,267.0 596.4,265.9 596.8,266.6 597.2,267.2 597.6,267.2 598.0,270.4 598.4,268.7 598.8,268.5 599.2,276.1 599.6,260.2 600.0,273.8 600.4,258.7 600.8,265.0 601.2,270.6 601.6,269.0 602.0,270.2 602.4,267.0 602.8,277.0 603.2,268.4 603.6,265.6 604.0,268.2 604.4,266.9 604.8,268.4 605.2,266.9 605.6,263.6 606.0,266.5 606.4,262.7 606.8,264.1 607.2,267.9 607.6,268.5 608.0,266.2 608.4,266.4 608.7,269.4 609.1,266.9 609.5,268.7 609.9,257.4 610.3,270.4 610.7,268.4 611.1,263.9 611.5,268.0 611.9,270.0 612.3,270.5 612.7,265.9 613.1,266.5 613.5,269.3 613.9,269.4 614.3,267.7 614.7,263.5 615.1,266.6 615.5,274.9 615.9,266.9 616.3,260.8 616.7,268.4 617.1,263.4 617.5,262.5 617.9,270.5 618.3,269.0 618.7,270.5 619.1,267.9 619.5,266.3 619.9,265.2 620.3,274.5 620.7,261.4 621.1,274.3 621.5,261.8 621.9,267.9 622.3,274.3 622.7,279.8 623.1,272.1 623.5,279.5 623.9,260.5 624.3,267.1 624.7,270.2 625.1,273.5 625.4,267.4 625.8,268.6 626.2,271.4 626.6,269.5 627.0,265.4 627.4,276.4 627.8,264.6 628.2,261.9 628.6,263.2 629.0,272.3 629.4,264.7 629.8,266.1 630.2,274.7 630.6,271.7 631.0,268.5 631.4,268.1 631.8,266.3 632.2,266.7 632.6,266.9 633.0,270.1 633.4,257.2 633.8,262.5 634.2,269.7 634.6,262.3 635.0,264.6 635.4,269.0 635.8,263.9 636.2,266.4 636.6,266.9 637.0,268.8 637.4,277.4 637.8,261.9 638.2,262.2 638.6,267.2 639.0,266.5 639.4,264.7 639.8,281.4 640.2,270.2 640.6,273.8 641.0,258.1 641.4,267.7 641.7,268.4 642.1,264.7 642.5,267.6 642.9,267.2 643.3,259.2 643.7,266.6 644.1,268.2 644.5,268.1 644.9,266.5 645.3,268.1 645.7,267.3 646.1,266.2 646.5,268.1 646.9,265.5 647.3,254.9 647.7,260.1 648.1,273.0 648.5,265.1 648.9,268.1 649.3,267.1 649.7,274.2 650.1,258.5 650.5,263.5 650.9,261.0 651.3,272.0 651.7,268.4 652.1,267.4 652.5,267.5 652.9,263.6 653.3,266.4 653.7,262.7 654.1,276.8 654.5,269.6 654.9,271.2 655.3,262.2 655.7,263.1 656.1,265.8 656.5,270.3 656.9,265.1 657.3,266.3 657.7,265.1 658.1,267.6 658.4,265.7 658.8,258.2 659.2,256.5 659.6,261.5 660.0,274.8 660.4,265.1 660.8,270.7 661.2,269.1 661.6,266.8 662.0,263.2 662.4,262.2 662.8,267.9 663.2,261.9 663.6,267.1 664.0,280.8 664.4,263.8 664.8,267.1 665.2,269.0 665.6,271.1 666.0,266.6 666.4,265.4 666.8,255.0 667.2,262.6 667.6,265.2 668.0,266.1 668.4,270.7 668.8,264.8 669.2,269.0 669.6,266.9 670.0,260.6 670.4,265.4 670.8,268.8 671.2,264.9 671.6,267.8 672.0,263.6 672.4,267.8 672.8,265.3 673.2,267.4 673.6,273.1 674.0,279.0 674.4,269.1 674.7,260.8 675.1,266.6 675.5,263.7 675.9,266.7 676.3,263.9 676.7,261.7 677.1,255.8 677.5,265.2 677.9,267.2 678.3,267.0 678.7,268.6 679.1,259.5 679.5,262.7 679.9,264.0 680.3,268.5 680.7,274.9 681.1,266.0 681.5,269.2 681.9,264.9 682.3,272.9 682.7,267.1 683.1,264.5 683.5,266.7 683.9,265.3 684.3,267.6 684.7,266.4 685.1,260.5 685.5,260.9 685.9,262.9 686.3,266.4 686.7,263.2 687.1,264.7 687.5,268.3 687.9,256.8 688.3,266.5 688.7,264.1 689.1,256.8 689.5,262.3 689.9,256.6 690.3,256.9 690.7,263.3 691.1,263.0 691.4,261.5 691.8,259.0 692.2,264.0 692.6,261.0 693.0,269.4 693.4,264.3 693.8,267.1 694.2,262.5 694.6,263.1 695.0,256.3 695.4,260.9 695.8,264.4 696.2,263.1 696.6,253.2 697.0,259.3 697.4,254.8 697.8,259.3 698.2,259.0 698.6,253.7 699.0,258.9 699.4,250.0 699.8,254.7 700.2,260.5 700.6,253.4 701.0,253.6 701.4,254.6 701.8,251.9 702.2,258.1 702.6,251.7 703.0,241.5 703.4,262.4 703.8,249.0 704.2,250.3 704.6,244.9 705.0,251.7 705.4,258.5 705.8,260.1 706.2,248.2 706.6,250.7 707.0,246.2 707.4,246.8 707.8,247.0 708.1,242.1 708.5,250.0 708.9,257.8 709.3,245.8 709.7,245.7 710.1,243.7 710.5,243.4 710.9,248.0 711.3,242.4 711.7,238.4 712.1,252.6 712.5,241.7 712.9,240.3 713.3,236.0 713.7,239.1 714.1,237.5 714.5,238.6 714.9,237.3 715.3,229.6 715.7,227.1 716.1,232.7 716.5,235.1 716.9,236.6 717.3,234.8 717.7,235.4 718.1,233.9 718.5,243.4 718.9,230.6 719.3,231.2 719.7,228.5 720.1,236.6 720.5,231.5 720.9,230.1 721.3,233.0 721.7,227.8 722.1,217.5 722.5,230.2 722.9,230.1 723.3,242.0 723.7,233.1 724.1,225.0 724.4,225.2 724.8,224.4 725.2,227.0 725.6,219.4 726.0,221.6 726.4,229.1 726.8,227.0 727.2,226.2 727.6,225.9 728.0,224.9 728.4,224.5 728.8,238.5 729.2,223.0 729.6,225.9 730.0,223.8 730.4,228.2 730.8,218.1 731.2,229.3 731.6,224.7 732.0,229.5 732.4,223.1 732.8,218.0 733.2,233.0 733.6,220.2 734.0,227.3 734.4,222.4 734.8,228.4 735.2,221.1 735.6,219.9 736.0,217.8 736.4,225.5 736.8,221.6 737.2,222.3 737.6,221.0 738.0,220.7 738.4,223.3 738.8,218.0 739.2,211.0 739.6,221.3 740.0,220.2 740.4,214.9 740.8,217.2 741.1,218.0 741.5,217.2 741.9,223.5 742.3,217.5 742.7,221.3 743.1,217.3 743.5,219.1 743.9,212.0 744.3,216.2 744.7,225.4 745.1,225.4 745.5,209.8 745.9,221.9 746.3,217.8 746.7,223.5 747.1,219.9 747.5,216.9 747.9,224.9 748.3,219.1 748.7,220.6 749.1,218.0 749.5,217.1 749.9,221.0 750.3,221.7 750.7,222.5 751.1,222.4 751.5,215.3 751.9,217.4 752.3,217.3 752.7,222.9 753.1,226.3 753.5,214.8 753.9,212.7 754.3,216.3 754.7,219.0 755.1,218.3 755.5,223.5 755.9,220.1 756.3,207.7 756.7,212.4 757.1,217.1 757.5,216.0 757.8,206.8 758.2,211.3 758.6,216.0 759.0,216.2 759.4,214.9 759.8,218.6 760.2,217.2 760.6,212.0 761.0,216.2 761.4,213.4 761.8,219.8 762.2,213.3 762.6,218.6 763.0,222.1 763.4,213.1 763.8,215.9 764.2,222.6 764.6,219.2 765.0,214.9 765.4,218.9 765.8,217.1 766.2,218.1 766.6,217.6 767.0,220.0 767.4,219.2 767.8,220.7 768.2,214.8 768.6,222.1 769.0,212.2 769.4,220.6 769.8,221.1 770.2,217.8 770.6,218.7 771.0,222.1 771.4,207.4 771.8,216.6 772.2,214.1 772.6,216.2 773.0,218.6 773.4,212.5 773.8,206.5 774.1,214.6 774.5,214.2 774.9,219.2 775.3,220.7 775.7,217.9 776.1,220.9 776.5,219.2 776.9,226.4 777.3,222.4 777.7,224.9 778.1,220.0 778.5,218.3 778.9,225.4 779.3,218.1 779.7,220.1 780.1,221.5 780.5,218.9 780.9,227.4 781.3,217.3 781.7,226.1 782.1,221.8 782.5,222.8 782.9,227.8 783.3,216.2 783.7,225.5 784.1,226.1 784.5,224.1 784.9,236.7 785.3,224.5 785.7,219.5 786.1,230.2 786.5,225.5 786.9,227.5 787.3,224.5 787.7,224.9 788.1,217.6 788.5,225.9 788.9,224.2 789.3,220.9 789.7,224.4 790.1,226.1 790.5,222.6 790.8,225.0 791.2,225.5 791.6,223.9 792.0,220.3 792.4,228.2 792.8,227.1 793.2,221.0 793.6,224.9 794.0,225.9 794.4,225.0 794.8,230.3 795.2,225.0 795.6,223.8 796.0,227.3 796.4,228.3 796.8,213.3 797.2,226.0 797.6,226.2 798.0,228.8 798.4,223.3 798.8,222.7 799.2,233.9 799.6,231.7 800.0,225.7 800.4,228.3 800.8,234.3 801.2,228.6 801.6,242.0 802.0,225.4 802.4,227.8 802.8,223.4 803.2,226.6 803.6,227.9 804.0,229.4 804.4,238.6 804.8,226.2 805.2,234.6 805.6,228.0 806.0,229.0 806.4,230.4 806.8,231.2 807.1,226.9 807.5,235.0 807.9,236.7 808.3,235.1 808.7,228.1 809.1,230.4 809.5,231.0 809.9,231.1 810.3,224.8 810.7,236.1 811.1,226.0 811.5,229.9 811.9,228.6 812.3,239.2 812.7,228.8 813.1,230.3 813.5,230.9 813.9,233.8 814.3,229.6 814.7,230.3 815.1,232.3 815.5,230.2 815.9,233.7 816.3,226.4 816.7,229.6 817.1,230.7 817.5,235.3 817.9,233.3 818.3,229.1 818.7,229.1 819.1,234.9 819.5,233.7 819.9,231.9 820.3,236.5 820.7,229.9 821.1,232.6 821.5,226.8 821.9,227.5 822.3,232.6 822.7,232.1 823.1,233.7 823.5,230.6 823.8,234.6 824.2,237.7 824.6,227.7 825.0,234.2 825.4,232.8 825.8,241.1 826.2,227.8 826.6,234.9 827.0,233.0 827.4,231.5 827.8,224.1 828.2,235.9 828.6,235.4 829.0,231.9 829.4,234.9 829.8,238.1 830.2,233.1 830.6,231.9 831.0,232.7 831.4,238.8 831.8,231.4 832.2,234.8 832.6,238.3 833.0,233.4 833.4,236.9 833.8,236.2 834.2,235.8 834.6,232.5 835.0,236.7 835.4,220.5 835.8,232.4 836.2,233.8 836.6,240.7 837.0,243.0 837.4,234.7 837.8,232.1 838.2,240.3 838.6,234.1 839.0,241.4 839.4,235.0 839.8,234.7 840.2,235.0 840.5,242.0 840.9,234.4 841.3,235.5 841.7,230.1 842.1,237.0 842.5,231.8 842.9,238.5 843.3,240.6 843.7,234.7 844.1,235.9 844.5,231.5 844.9,240.6 845.3,238.5 845.7,222.9 846.1,240.1 846.5,235.3 846.9,235.0 847.3,229.5 847.7,225.6 848.1,248.7 848.5,234.4 848.9,230.3 849.3,223.5 849.7,241.9 850.1,239.2 850.5,241.0 850.9,234.8 851.3,227.7 851.7,235.5 852.1,229.4 852.5,232.4 852.9,235.6 853.3,236.1 853.7,235.1 854.1,234.0 854.5,234.0 854.9,235.1 855.3,236.9 855.7,235.1 856.1,235.3 856.5,231.9 856.8,231.5 857.2,234.9 857.6,240.1 858.0,239.7 858.4,231.6 858.8,235.5 859.2,234.2 859.6,236.4 860.0,237.7 860.4,235.5 860.8,235.6 861.2,240.6 861.6,234.5 862.0,235.8 862.4,231.7 862.8,230.8 863.2,236.6 863.6,233.7 864.0,233.7 864.4,235.3 864.8,227.1 865.2,239.5 865.6,235.5 866.0,235.3 866.4,247.8 866.8,237.0 867.2,234.3 867.6,233.2 868.0,241.9 868.4,245.2 868.8,243.8 869.2,239.3 869.6,234.6 870.0,235.1 870.4,236.8 870.8,230.6 871.2,246.9 871.6,236.2 872.0,242.2 872.4,239.6 872.8,233.7 873.2,232.2 873.5,236.1 873.9,231.6 874.3,240.0 874.7,236.2 875.1,237.2 875.5,232.3 875.9,223.0 876.3,236.0 876.7,234.2 877.1,235.2 877.5,223.5 877.9,232.4 878.3,235.6 878.7,235.4 879.1,226.9 879.5,236.3 879.9,236.7 880.3,235.6 880.7,238.7 881.1,234.7 881.5,238.8 881.9,231.6 882.3,239.5 882.7,230.7 883.1,227.5 883.5,237.0 883.9,235.9 884.3,235.7 884.7,241.9 885.1,238.0 885.5,235.0 885.9,237.9 886.3,238.7 886.7,233.2 887.1,236.0 887.5,237.2 887.9,232.2 888.3,232.0 888.7,239.8 889.1,237.1 889.5,240.5 889.9,236.3 890.2,221.9 890.6,241.3 891.0,224.0 891.4,237.2 891.8,240.9 892.2,242.6 892.6,236.1 893.0,237.1 893.4,233.0 893.8,234.5 894.2,237.3 894.6,237.6 895.0,239.3 895.4,231.4 895.8,239.9 896.2,230.3 896.6,235.4 897.0,236.3 897.4,234.4 897.8,221.9 898.2,234.2 898.6,233.5 899.0,234.3 899.4,224.6 899.8,231.3 900.2,235.7 900.6,230.8 901.0,249.7 901.4,241.2 901.8,239.7 902.2,238.5 902.6,232.8 903.0,238.4 903.4,230.5 903.8,235.5 904.2,240.4 904.6,233.0 905.0,235.4 905.4,234.8 905.8,235.8 906.2,235.8 906.5,231.8 906.9,242.1 907.3,235.0 907.7,239.2 908.1,242.2 908.5,230.0 908.9,232.2 909.3,234.2 909.7,234.7 910.1,236.0 910.5,236.3 910.9,238.5 911.3,231.4 911.7,241.1 912.1,234.3 912.5,241.8 912.9,237.6 913.3,232.2 913.7,230.0 914.1,234.9 914.5,228.1 914.9,225.1 915.3,237.0 915.7,235.2 916.1,234.0 916.5,238.8 916.9,225.1 917.3,236.6 917.7,235.7 918.1,236.1 918.5,236.5 918.9,236.4 919.3,242.0 919.7,236.2 920.1,236.4 920.5,236.6 920.9,249.1 921.3,228.3 921.7,242.4 922.1,230.9 922.5,232.8 922.9,238.4 923.2,234.8 923.6,235.7 924.0,228.0 924.4,231.1 924.8,238.3 925.2,232.2 925.6,236.6 926.0,236.9 926.4,240.0 926.8,236.2 927.2,239.6 927.6,235.6 928.0,237.5 928.4,235.3 928.8,235.7 929.2,243.9 929.6,223.0 930.0,241.2 930.4,232.0 930.8,233.7 931.2,237.1 931.6,239.6 932.0,237.3 932.4,233.8 932.8,233.0 933.2,236.5 933.6,241.4 934.0,235.7 934.4,241.6 934.8,251.5 935.2,235.3 935.6,239.4 936.0,240.5 936.4,239.3 936.8,248.6 937.2,242.1 937.6,235.2 938.0,242.2 938.4,237.3 938.8,242.7 939.2,237.8 939.5,225.0 939.9,238.1 940.3,225.3 940.7,234.9 941.1,251.3 941.5,239.9 941.9,236.5 942.3,241.1 942.7,226.3 943.1,233.9 943.5,235.5 943.9,239.7 944.3,247.2 944.7,238.5 945.1,249.5 945.5,241.2 945.9,243.6 946.3,245.2 946.7,244.5 947.1,236.6 947.5,237.4 947.9,242.9 948.3,234.2 948.7,246.7 949.1,247.6 949.5,245.6 949.9,246.4 950.3,252.4 950.7,246.1 951.1,247.7 951.5,242.6 951.9,251.6 952.3,246.1 952.7,248.2 953.1,245.5 953.5,242.6 953.9,245.8 954.3,243.8 954.7,241.8 955.1,246.7 955.5,246.0 955.9,247.7 956.2,242.0 956.6,248.9 957.0,246.0 957.4,250.1 957.8,251.9 958.2,253.6 958.6,248.3 959.0,256.9 959.4,259.8 959.8,245.7 960.2,241.1 960.6,253.5 961.0,250.5 961.4,242.6 961.8,249.5 962.2,250.7 962.6,248.1 963.0,251.3 963.4,250.5 963.8,249.6 964.2,248.5 964.6,238.7 965.0,250.9 965.4,246.5 965.8,252.3 966.2,248.8 966.6,249.6 967.0,249.7 967.4,260.1 967.8,251.6 968.2,249.9 968.6,248.1 969.0,249.5 969.4,250.8 969.8,251.4 970.2,255.0 970.6,257.8 971.0,256.4 971.4,254.1 971.8,247.3 972.2,251.4 972.6,251.7 972.9,250.0 973.3,257.4 973.7,256.4 974.1,262.9 974.5,258.4 974.9,252.8 975.3,261.0 975.7,258.5 976.1,254.6 976.5,252.2 976.9,255.3 977.3,258.0 977.7,262.0 978.1,254.6 978.5,250.7 978.9,257.7 979.3,255.2 979.7,254.5 980.1,258.7 980.5,260.9 980.9,254.3" fill="none" stroke="#ec1e26" stroke-width="2.6" stroke-linejoin="round"/>
<path d="M583.7,254.5 584.1,250.8 584.5,255.9 584.9,256.8 585.3,255.1 585.7,254.1 586.1,259.7 586.5,259.8 586.9,254.9 587.3,262.4 587.7,262.0 588.1,257.0 588.5,258.1 588.9,253.6 589.3,253.3 589.7,258.6 590.1,259.2 590.5,256.6 590.9,255.6 591.3,255.5 591.7,256.5 592.0,256.1 592.4,256.6 592.8,257.4 593.2,255.0 593.6,257.4 594.0,256.2 594.4,255.7 594.8,257.1 595.2,256.8 595.6,257.7 596.0,257.5 596.4,257.9 596.8,257.2 597.2,254.3 597.6,259.1 598.0,255.0 598.4,255.8 598.8,258.3 599.2,256.9 599.6,256.9 600.0,257.1 600.4,259.8 600.8,255.4 601.2,255.1 601.6,258.8 602.0,261.7 602.4,255.9 602.8,256.4 603.2,259.3 603.6,260.0 604.0,246.9 604.4,253.3 604.8,255.1 605.2,256.2 605.6,250.3 606.0,255.3 606.4,255.2 606.8,257.3 607.2,255.4 607.6,254.7 608.0,253.9 608.4,254.4 608.7,251.9 609.1,260.5 609.5,250.7 609.9,255.3 610.3,257.0 610.7,253.7 611.1,259.5 611.5,259.1 611.9,244.4 612.3,253.0 612.7,249.8 613.1,257.5 613.5,256.2 613.9,257.0 614.3,250.0 614.7,249.8 615.1,253.5 615.5,263.2 615.9,257.8 616.3,254.4 616.7,256.4 617.1,260.1 617.5,248.0 617.9,259.1 618.3,260.2 618.7,255.4 619.1,257.8 619.5,257.0 619.9,256.9 620.3,256.1 620.7,255.1 621.1,252.8 621.5,255.9 621.9,254.6 622.3,254.1 622.7,256.0 623.1,259.6 623.5,251.8 623.9,256.5 624.3,251.2 624.7,255.9 625.1,254.7 625.4,253.8 625.8,256.0 626.2,257.7 626.6,253.4 627.0,252.3 627.4,257.6 627.8,257.2 628.2,258.0 628.6,262.5 629.0,256.7 629.4,256.5 629.8,251.8 630.2,256.8 630.6,254.3 631.0,255.7 631.4,253.8 631.8,258.2 632.2,257.7 632.6,259.5 633.0,254.8 633.4,255.3 633.8,253.0 634.2,258.6 634.6,250.0 635.0,257.3 635.4,251.2 635.8,256.4 636.2,260.0 636.6,254.4 637.0,249.8 637.4,250.2 637.8,256.9 638.2,251.8 638.6,250.5 639.0,258.1 639.4,248.0 639.8,259.1 640.2,261.1 640.6,261.1 641.0,257.1 641.4,257.1 641.7,254.8 642.1,255.3 642.5,255.1 642.9,250.1 643.3,257.7 643.7,255.9 644.1,260.2 644.5,257.3 644.9,255.7 645.3,248.6 645.7,253.0 646.1,254.2 646.5,255.1 646.9,254.6 647.3,256.2 647.7,261.0 648.1,254.3 648.5,257.9 648.9,258.1 649.3,257.6 649.7,253.9 650.1,255.8 650.5,253.8 650.9,254.7 651.3,246.5 651.7,247.4 652.1,256.7 652.5,245.7 652.9,257.0 653.3,255.3 653.7,256.7 654.1,246.7 654.5,254.6 654.9,249.0 655.3,250.9 655.7,255.0 656.1,259.8 656.5,254.6 656.9,254.3 657.3,252.7 657.7,254.8 658.1,254.7 658.4,256.9 658.8,255.5 659.2,255.7 659.6,244.4 660.0,255.3 660.4,245.2 660.8,260.2 661.2,257.3 661.6,255.3 662.0,254.0 662.4,249.9 662.8,265.2 663.2,254.6 663.6,253.4 664.0,258.7 664.4,248.4 664.8,258.7 665.2,256.4 665.6,256.7 666.0,252.7 666.4,250.4 666.8,260.4 667.2,258.1 667.6,256.8 668.0,253.3 668.4,255.3 668.8,253.6 669.2,256.4 669.6,258.5 670.0,256.4 670.4,257.4 670.8,258.6 671.2,255.2 671.6,257.6 672.0,265.0 672.4,255.4 672.8,257.5 673.2,251.4 673.6,255.3 674.0,260.0 674.4,261.5 674.7,256.9 675.1,256.8 675.5,253.5 675.9,250.9 676.3,252.5 676.7,254.1 677.1,252.2 677.5,246.1 677.9,250.7 678.3,249.0 678.7,242.2 679.1,247.5 679.5,249.0 679.9,247.6 680.3,247.9 680.7,252.0 681.1,245.2 681.5,245.8 681.9,248.9 682.3,241.6 682.7,243.9 683.1,243.1 683.5,242.3 683.9,236.6 684.3,240.8 684.7,242.7 685.1,248.1 685.5,240.7 685.9,251.0 686.3,241.9 686.7,242.4 687.1,234.8 687.5,236.0 687.9,229.4 688.3,231.3 688.7,239.5 689.1,226.9 689.5,232.6 689.9,232.2 690.3,229.4 690.7,225.4 691.1,228.8 691.4,224.5 691.8,225.2 692.2,222.5 692.6,224.5 693.0,214.3 693.4,213.1 693.8,219.6 694.2,209.6 694.6,197.1 695.0,199.3 695.4,197.4 695.8,193.5 696.2,196.3 696.6,187.9 697.0,184.3 697.4,180.2 697.8,173.2 698.2,178.1 698.6,169.6 699.0,169.8 699.4,161.6 699.8,172.2 700.2,158.3 700.6,155.2 701.0,159.8 701.4,151.5 701.8,148.1 702.2,148.1 702.6,150.2 703.0,143.5 703.4,147.0 703.8,139.1 704.2,138.0 704.6,134.6 705.0,138.3 705.4,126.3 705.8,124.5 706.2,126.3 706.6,120.9 707.0,121.7 707.4,120.2 707.8,120.2 708.1,111.0 708.5,115.6 708.9,107.7 709.3,112.1 709.7,108.3 710.1,107.2 710.5,105.7 710.9,104.9 711.3,104.0 711.7,100.6 712.1,104.9 712.5,100.4 712.9,98.3 713.3,101.6 713.7,102.3 714.1,100.2 714.5,95.1 714.9,95.7 715.3,95.6 715.7,94.7 716.1,95.8 716.5,97.8 716.9,93.1 717.3,90.1 717.7,91.7 718.1,97.9 718.5,83.6 718.9,98.1 719.3,90.9 719.7,90.5 720.1,93.6 720.5,90.0 720.9,89.2 721.3,90.3 721.7,91.4 722.1,93.2 722.5,91.9 722.9,90.7 723.3,84.3 723.7,96.0 724.1,91.4 724.4,83.1 724.8,88.8 725.2,91.7 725.6,94.2 726.0,93.9 726.4,88.3 726.8,92.5 727.2,91.2 727.6,88.7 728.0,91.5 728.4,89.7 728.8,93.8 729.2,95.0 729.6,95.0 730.0,97.5 730.4,92.7 730.8,103.2 731.2,97.6 731.6,101.1 732.0,105.7 732.4,100.4 732.8,103.2 733.2,101.0 733.6,102.6 734.0,105.4 734.4,105.7 734.8,103.9 735.2,106.0 735.6,103.9 736.0,104.4 736.4,103.7 736.8,108.0 737.2,114.8 737.6,106.6 738.0,116.9 738.4,105.4 738.8,112.1 739.2,116.3 739.6,115.7 740.0,120.6 740.4,118.5 740.8,114.5 741.1,115.8 741.5,129.0 741.9,117.9 742.3,119.9 742.7,130.1 743.1,123.2 743.5,122.3 743.9,124.0 744.3,127.7 744.7,126.8 745.1,126.3 745.5,128.3 745.9,130.1 746.3,132.1 746.7,131.6 747.1,126.0 747.5,136.2 747.9,135.8 748.3,136.6 748.7,138.9 749.1,143.1 749.5,141.8 749.9,140.2 750.3,142.5 750.7,148.7 751.1,149.4 751.5,152.9 751.9,151.4 752.3,149.1 752.7,154.3 753.1,153.3 753.5,158.1 753.9,155.1 754.3,159.3 754.7,160.5 755.1,164.6 755.5,164.1 755.9,170.1 756.3,167.5 756.7,166.1 757.1,169.2 757.5,167.1 757.8,171.3 758.2,176.8 758.6,171.5 759.0,168.6 759.4,170.7 759.8,177.0 760.2,168.9 760.6,171.6 761.0,180.9 761.4,183.5 761.8,184.2 762.2,180.4 762.6,187.2 763.0,185.5 763.4,192.6 763.8,191.0 764.2,194.7 764.6,195.3 765.0,191.6 765.4,199.7 765.8,202.9 766.2,200.6 766.6,201.8 767.0,203.1 767.4,204.4 767.8,209.1 768.2,205.6 768.6,209.4 769.0,209.1 769.4,208.7 769.8,208.5 770.2,215.3 770.6,216.0 771.0,215.1 771.4,215.4 771.8,219.1 772.2,219.9 772.6,218.8 773.0,219.3 773.4,215.8 773.8,217.0 774.1,225.0 774.5,214.2 774.9,224.1 775.3,220.3 775.7,226.2 776.1,224.3 776.5,225.6 776.9,221.6 777.3,229.2 777.7,226.0 778.1,225.7 778.5,228.0 778.9,229.0 779.3,231.0 779.7,233.7 780.1,229.3 780.5,230.5 780.9,228.7 781.3,232.1 781.7,228.7 782.1,243.5 782.5,230.8 782.9,229.5 783.3,232.7 783.7,232.9 784.1,233.4 784.5,236.1 784.9,231.9 785.3,237.4 785.7,236.8 786.1,243.7 786.5,241.1 786.9,235.6 787.3,244.3 787.7,235.8 788.1,237.6 788.5,237.0 788.9,227.0 789.3,243.7 789.7,236.0 790.1,239.6 790.5,236.3 790.8,242.6 791.2,239.2 791.6,247.6 792.0,241.7 792.4,241.8 792.8,241.9 793.2,239.3 793.6,240.6 794.0,240.5 794.4,240.1 794.8,238.3 795.2,246.9 795.6,243.5 796.0,247.1 796.4,242.9 796.8,242.4 797.2,243.3 797.6,255.6 798.0,248.8 798.4,246.1 798.8,244.4 799.2,242.5 799.6,244.8 800.0,249.2 800.4,243.1 800.8,244.5 801.2,247.3 801.6,246.6 802.0,244.3 802.4,241.8 802.8,255.0 803.2,247.8 803.6,246.2 804.0,248.3 804.4,248.1 804.8,244.8 805.2,245.7 805.6,250.5 806.0,253.4 806.4,249.8 806.8,252.6 807.1,239.6 807.5,247.3 807.9,254.0 808.3,246.6 808.7,248.4 809.1,248.9 809.5,245.0 809.9,246.9 810.3,252.9 810.7,247.1 811.1,254.4 811.5,251.5 811.9,248.1 812.3,251.8 812.7,249.9 813.1,252.0 813.5,250.5 813.9,251.6 814.3,252.8 814.7,253.0 815.1,251.1 815.5,257.9 815.9,252.6 816.3,248.6 816.7,251.0 817.1,249.6 817.5,250.1 817.9,255.6 818.3,257.0 818.7,256.8 819.1,253.6 819.5,262.1 819.9,263.0 820.3,251.2 820.7,255.6 821.1,265.5 821.5,254.3 821.9,261.0 822.3,246.1 822.7,252.4 823.1,256.7 823.5,251.1 823.8,256.5 824.2,253.5 824.6,255.6 825.0,253.0 825.4,257.9 825.8,254.1 826.2,255.4 826.6,257.6 827.0,253.2 827.4,250.1 827.8,253.5 828.2,257.2 828.6,256.4 829.0,256.2 829.4,258.5 829.8,257.9 830.2,264.9 830.6,258.5 831.0,256.8 831.4,256.2 831.8,259.1 832.2,256.6 832.6,248.4 833.0,260.7 833.4,256.8 833.8,263.4 834.2,250.4 834.6,268.3 835.0,254.8 835.4,254.7 835.8,251.8 836.2,257.2 836.6,258.9 837.0,256.4 837.4,256.8 837.8,266.7 838.2,259.7 838.6,254.1 839.0,257.1 839.4,260.9 839.8,256.3 840.2,257.3 840.5,254.6 840.9,252.0 841.3,252.8 841.7,258.8 842.1,254.5 842.5,256.8 842.9,251.0 843.3,269.2 843.7,247.1 844.1,258.6 844.5,252.8 844.9,259.7 845.3,259.3 845.7,257.7 846.1,261.8 846.5,261.9 846.9,259.0 847.3,259.7 847.7,261.7 848.1,260.8 848.5,255.7 848.9,257.3 849.3,258.8 849.7,256.0 850.1,257.3 850.5,259.4 850.9,250.7 851.3,262.4 851.7,258.2 852.1,257.6 852.5,268.6 852.9,257.1 853.3,259.7 853.7,253.9 854.1,267.7 854.5,256.0 854.9,257.1 855.3,254.2 855.7,263.9 856.1,247.3 856.5,261.6 856.8,263.3 857.2,262.1 857.6,254.5 858.0,258.7 858.4,257.8 858.8,263.9 859.2,261.8 859.6,259.9 860.0,251.0 860.4,257.1 860.8,260.7 861.2,258.0 861.6,260.8 862.0,267.6 862.4,260.9 862.8,255.1 863.2,259.2 863.6,256.8 864.0,261.4 864.4,256.5 864.8,259.6 865.2,258.6 865.6,259.2 866.0,254.7 866.4,263.1 866.8,260.9 867.2,257.7 867.6,260.2 868.0,264.9 868.4,259.8 868.8,253.9 869.2,270.5 869.6,259.9 870.0,257.8 870.4,256.1 870.8,259.9 871.2,256.9 871.6,258.6 872.0,257.6 872.4,263.9 872.8,258.0 873.2,258.0 873.5,261.6 873.9,259.9 874.3,260.4 874.7,257.5 875.1,258.2 875.5,256.7 875.9,267.0 876.3,257.2 876.7,258.9 877.1,264.0 877.5,257.5 877.9,259.0 878.3,254.6 878.7,262.5 879.1,252.1 879.5,257.8 879.9,253.9 880.3,260.5 880.7,258.1 881.1,256.7 881.5,259.3 881.9,260.0 882.3,257.8 882.7,257.6 883.1,250.6 883.5,263.4 883.9,261.3 884.3,259.3 884.7,256.8 885.1,261.4 885.5,259.3 885.9,263.1 886.3,261.7 886.7,265.2 887.1,261.0 887.5,262.9 887.9,257.9 888.3,263.8 888.7,262.0 889.1,256.5 889.5,260.9 889.9,263.3 890.2,248.4 890.6,261.1 891.0,257.7 891.4,260.8 891.8,266.6 892.2,261.9 892.6,263.8 893.0,263.6 893.4,258.4 893.8,257.9 894.2,259.9 894.6,264.1 895.0,261.5 895.4,262.7 895.8,268.1 896.2,256.6 896.6,259.4 897.0,258.5 897.4,264.8 897.8,259.0 898.2,248.6 898.6,260.7 899.0,258.7 899.4,260.4 899.8,261.1 900.2,266.0 900.6,263.4 901.0,257.3 901.4,253.2 901.8,256.9 902.2,257.1 902.6,260.9 903.0,257.1 903.4,259.7 903.8,260.7 904.2,260.1 904.6,264.5 905.0,266.1 905.4,263.6 905.8,258.9 906.2,259.2 906.5,258.6 906.9,259.1 907.3,252.1 907.7,261.2 908.1,256.1 908.5,263.9 908.9,256.7 909.3,260.4 909.7,261.2 910.1,260.4 910.5,257.8 910.9,260.8 911.3,257.8 911.7,260.4 912.1,261.6 912.5,260.6 912.9,262.4 913.3,265.1 913.7,268.1 914.1,263.3 914.5,262.3 914.9,268.8 915.3,263.2 915.7,264.4 916.1,261.7 916.5,259.2 916.9,258.2 917.3,264.0 917.7,266.0 918.1,260.9 918.5,264.3 918.9,258.4 919.3,260.1 919.7,259.4 920.1,262.5 920.5,266.9 920.9,261.7 921.3,256.3 921.7,261.1 922.1,256.9 922.5,257.0 922.9,262.6 923.2,261.7 923.6,263.5 924.0,254.7 924.4,252.7 924.8,261.9 925.2,260.9 925.6,256.9 926.0,258.4 926.4,258.5 926.8,260.0 927.2,260.3 927.6,262.5 928.0,260.0 928.4,257.4 928.8,259.3 929.2,260.0 929.6,261.1 930.0,262.6 930.4,260.6 930.8,261.4 931.2,259.3 931.6,266.7 932.0,259.7 932.4,260.2 932.8,262.1 933.2,260.1 933.6,257.6 934.0,260.0 934.4,256.4 934.8,261.9 935.2,260.9 935.6,260.1 936.0,264.4 936.4,260.3 936.8,261.5 937.2,261.5 937.6,261.2 938.0,266.0 938.4,272.1 938.8,260.2 939.2,262.9 939.5,263.6 939.9,263.3 940.3,269.1 940.7,256.2 941.1,256.6 941.5,260.0 941.9,259.3 942.3,259.0 942.7,257.0 943.1,258.8 943.5,256.7 943.9,263.9 944.3,263.0 944.7,265.2 945.1,264.1 945.5,254.8 945.9,260.2 946.3,255.8 946.7,258.5 947.1,266.1 947.5,262.4 947.9,266.6 948.3,255.6 948.7,260.9 949.1,260.5 949.5,258.7 949.9,255.3 950.3,258.9 950.7,257.9 951.1,255.6 951.5,261.8 951.9,259.6 952.3,258.4 952.7,269.3 953.1,257.8 953.5,256.8 953.9,260.0 954.3,262.4 954.7,263.7 955.1,268.0 955.5,251.5 955.9,261.0 956.2,261.2 956.6,262.3 957.0,261.9 957.4,261.3 957.8,260.7 958.2,264.7 958.6,259.4 959.0,259.2 959.4,258.8 959.8,261.5 960.2,270.9 960.6,263.8 961.0,262.1 961.4,267.2 961.8,256.0 962.2,258.8 962.6,262.2 963.0,261.9 963.4,256.4 963.8,262.8 964.2,268.3 964.6,269.9 965.0,260.4 965.4,268.4 965.8,261.5 966.2,255.1 966.6,261.9 967.0,259.8 967.4,261.6 967.8,262.7 968.2,264.1 968.6,259.8 969.0,264.3 969.4,262.8 969.8,269.0 970.2,266.2 970.6,264.4 971.0,261.0 971.4,263.6 971.8,252.6 972.2,259.0 972.6,260.7 972.9,260.7 973.3,260.6 973.7,261.9 974.1,260.6 974.5,266.5 974.9,259.7 975.3,260.5 975.7,264.9 976.1,263.4 976.5,263.9 976.9,261.6 977.3,265.1 977.7,262.5 978.1,260.5 978.5,254.5 978.9,264.1 979.3,260.1 979.7,264.2 980.1,267.1 980.5,265.3 980.9,259.3" fill="none" stroke="#000" stroke-width="3.0" stroke-linejoin="round"/>
<path d="M583.7,252.5 584.1,256.7 584.5,255.7 584.9,255.1 585.3,256.8 585.7,255.0 586.1,254.1 586.5,252.3 586.9,256.8 587.3,256.2 587.7,255.2 588.1,247.7 588.5,250.6 588.9,261.5 589.3,253.7 589.7,258.8 590.1,257.3 590.5,255.3 590.9,253.6 591.3,258.6 591.7,250.6 592.0,256.7 592.4,252.7 592.8,251.5 593.2,257.9 593.6,258.7 594.0,252.0 594.4,259.0 594.8,253.4 595.2,244.4 595.6,260.6 596.0,255.4 596.4,256.7 596.8,254.3 597.2,251.9 597.6,256.9 598.0,256.9 598.4,257.6 598.8,252.5 599.2,253.7 599.6,252.3 600.0,255.4 600.4,251.7 600.8,259.4 601.2,251.9 601.6,256.6 602.0,256.3 602.4,252.8 602.8,254.1 603.2,261.8 603.6,257.6 604.0,250.8 604.4,259.9 604.8,254.2 605.2,257.2 605.6,256.4 606.0,252.8 606.4,253.2 606.8,262.2 607.2,251.7 607.6,263.0 608.0,255.0 608.4,255.5 608.7,260.2 609.1,247.6 609.5,254.8 609.9,249.5 610.3,254.4 610.7,254.7 611.1,259.3 611.5,256.3 611.9,255.3 612.3,261.0 612.7,259.4 613.1,254.8 613.5,255.2 613.9,255.9 614.3,252.2 614.7,255.7 615.1,254.3 615.5,258.6 615.9,253.9 616.3,248.5 616.7,254.9 617.1,256.0 617.5,254.3 617.9,261.1 618.3,252.9 618.7,255.8 619.1,256.6 619.5,255.7 619.9,258.0 620.3,257.8 620.7,253.5 621.1,256.2 621.5,253.0 621.9,247.0 622.3,253.9 622.7,258.4 623.1,252.5 623.5,256.0 623.9,253.8 624.3,259.2 624.7,257.5 625.1,254.8 625.4,254.8 625.8,260.3 626.2,253.4 626.6,249.3 627.0,256.1 627.4,256.0 627.8,255.3 628.2,257.3 628.6,256.3 629.0,254.0 629.4,258.3 629.8,256.7 630.2,249.2 630.6,246.4 631.0,258.8 631.4,249.9 631.8,259.8 632.2,256.0 632.6,258.0 633.0,258.6 633.4,255.4 633.8,257.2 634.2,254.5 634.6,258.2 635.0,254.1 635.4,252.3 635.8,255.6 636.2,255.0 636.6,253.5 637.0,253.0 637.4,257.3 637.8,253.6 638.2,256.3 638.6,255.2 639.0,252.5 639.4,253.7 639.8,257.6 640.2,256.8 640.6,260.3 641.0,257.4 641.4,252.1 641.7,253.4 642.1,254.7 642.5,252.0 642.9,253.0 643.3,257.2 643.7,259.1 644.1,253.0 644.5,262.8 644.9,257.0 645.3,257.0 645.7,257.6 646.1,258.3 646.5,253.3 646.9,255.3 647.3,252.6 647.7,256.4 648.1,255.2 648.5,256.5 648.9,256.1 649.3,253.7 649.7,255.0 650.1,258.0 650.5,254.7 650.9,252.9 651.3,255.8 651.7,248.5 652.1,252.6 652.5,257.8 652.9,253.9 653.3,254.8 653.7,254.7 654.1,257.8 654.5,260.5 654.9,258.5 655.3,251.0 655.7,255.5 656.1,255.4 656.5,247.3 656.9,255.7 657.3,255.0 657.7,257.8 658.1,265.0 658.4,255.5 658.8,256.0 659.2,257.3 659.6,261.4 660.0,258.1 660.4,257.6 660.8,256.1 661.2,254.0 661.6,262.5 662.0,254.9 662.4,257.5 662.8,254.7 663.2,256.2 663.6,267.1 664.0,257.7 664.4,255.7 664.8,256.9 665.2,256.5 665.6,255.5 666.0,256.2 666.4,256.2 666.8,256.8 667.2,255.0 667.6,254.0 668.0,257.3 668.4,254.0 668.8,255.7 669.2,253.9 669.6,254.4 670.0,257.6 670.4,255.6 670.8,258.1 671.2,260.5 671.6,254.0 672.0,252.0 672.4,254.2 672.8,254.8 673.2,253.2 673.6,255.0 674.0,253.6 674.4,253.0 674.7,255.8 675.1,254.0 675.5,257.7 675.9,248.7 676.3,247.5 676.7,251.4 677.1,255.4 677.5,257.4 677.9,251.0 678.3,248.9 678.7,249.6 679.1,252.0 679.5,251.5 679.9,248.2 680.3,243.0 680.7,249.3 681.1,243.2 681.5,246.5 681.9,246.7 682.3,245.4 682.7,245.3 683.1,246.1 683.5,242.9 683.9,242.8 684.3,241.9 684.7,242.2 685.1,239.5 685.5,245.5 685.9,232.5 686.3,240.3 686.7,237.6 687.1,236.2 687.5,234.6 687.9,234.9 688.3,232.7 688.7,235.5 689.1,233.5 689.5,236.1 689.9,227.3 690.3,228.6 690.7,227.5 691.1,229.6 691.4,224.1 691.8,229.0 692.2,222.7 692.6,230.0 693.0,217.2 693.4,217.5 693.8,208.7 694.2,219.1 694.6,217.2 695.0,214.8 695.4,219.0 695.8,218.6 696.2,213.5 696.6,218.0 697.0,209.8 697.4,208.1 697.8,202.2 698.2,201.9 698.6,208.5 699.0,202.8 699.4,197.4 699.8,195.9 700.2,201.4 700.6,198.1 701.0,204.8 701.4,197.4 701.8,185.8 702.2,193.9 702.6,189.8 703.0,188.5 703.4,183.8 703.8,187.2 704.2,186.3 704.6,181.1 705.0,179.6 705.4,179.0 705.8,182.2 706.2,173.6 706.6,174.3 707.0,173.8 707.4,169.0 707.8,168.7 708.1,167.9 708.5,162.7 708.9,169.5 709.3,158.3 709.7,158.0 710.1,155.8 710.5,155.2 710.9,148.2 711.3,142.0 711.7,141.2 712.1,136.7 712.5,145.3 712.9,131.2 713.3,120.9 713.7,121.7 714.1,125.1 714.5,120.7 714.9,119.2 715.3,120.3 715.7,114.2 716.1,117.3 716.5,112.8 716.9,110.0 717.3,106.0 717.7,102.5 718.1,99.0 718.5,105.7 718.9,90.0 719.3,93.0 719.7,94.5 720.1,95.7 720.5,92.8 720.9,90.2 721.3,86.4 721.7,84.7 722.1,83.9 722.5,90.9 722.9,79.5 723.3,79.8 723.7,69.4 724.1,76.6 724.4,71.8 724.8,70.8 725.2,74.4 725.6,69.7 726.0,80.3 726.4,68.2 726.8,55.8 727.2,67.9 727.6,63.5 728.0,58.9 728.4,57.5 728.8,58.4 729.2,60.8 729.6,57.6 730.0,62.3 730.4,63.4 730.8,55.4 731.2,57.3 731.6,62.5 732.0,60.1 732.4,49.4 732.8,60.6 733.2,56.9 733.6,58.1 734.0,66.7 734.4,62.6 734.8,69.5 735.2,66.7 735.6,68.3 736.0,68.6 736.4,70.6 736.8,69.3 737.2,72.5 737.6,77.6 738.0,73.4 738.4,79.3 738.8,80.2 739.2,79.5 739.6,72.2 740.0,75.4 740.4,82.0 740.8,81.1 741.1,90.0 741.5,85.4 741.9,76.9 742.3,89.9 742.7,92.5 743.1,90.1 743.5,86.0 743.9,88.5 744.3,95.1 744.7,94.1 745.1,95.2 745.5,102.3 745.9,100.6 746.3,99.3 746.7,104.0 747.1,107.4 747.5,104.8 747.9,112.0 748.3,112.1 748.7,111.9 749.1,111.9 749.5,115.7 749.9,117.8 750.3,123.9 750.7,117.6 751.1,111.9 751.5,119.6 751.9,124.5 752.3,125.1 752.7,113.9 753.1,124.7 753.5,127.5 753.9,130.8 754.3,128.9 754.7,126.2 755.1,131.5 755.5,135.6 755.9,123.8 756.3,133.1 756.7,135.2 757.1,132.8 757.5,138.4 757.8,139.6 758.2,144.5 758.6,133.0 759.0,138.2 759.4,151.4 759.8,151.6 760.2,156.0 760.6,158.3 761.0,150.9 761.4,157.7 761.8,163.9 762.2,153.9 762.6,162.6 763.0,155.4 763.4,161.9 763.8,171.1 764.2,166.0 764.6,170.6 765.0,170.9 765.4,173.6 765.8,166.9 766.2,172.0 766.6,172.2 767.0,174.6 767.4,175.0 767.8,168.5 768.2,178.8 768.6,177.1 769.0,177.6 769.4,173.9 769.8,181.7 770.2,183.3 770.6,186.4 771.0,184.0 771.4,191.2 771.8,197.1 772.2,196.4 772.6,191.3 773.0,192.8 773.4,193.6 773.8,196.1 774.1,205.7 774.5,202.4 774.9,202.0 775.3,206.0 775.7,203.6 776.1,204.0 776.5,205.9 776.9,207.1 777.3,212.7 777.7,213.4 778.1,205.5 778.5,212.0 778.9,210.4 779.3,212.3 779.7,213.9 780.1,221.6 780.5,206.0 780.9,216.5 781.3,222.8 781.7,225.4 782.1,215.9 782.5,219.8 782.9,216.5 783.3,221.4 783.7,220.6 784.1,222.1 784.5,218.3 784.9,217.5 785.3,224.9 785.7,225.1 786.1,224.9 786.5,226.8 786.9,225.6 787.3,225.4 787.7,227.5 788.1,232.3 788.5,224.1 788.9,228.1 789.3,234.7 789.7,240.2 790.1,230.9 790.5,232.4 790.8,229.2 791.2,231.7 791.6,237.3 792.0,235.3 792.4,229.5 792.8,233.6 793.2,229.8 793.6,234.5 794.0,232.2 794.4,233.1 794.8,236.5 795.2,228.3 795.6,237.7 796.0,231.2 796.4,236.2 796.8,237.5 797.2,236.5 797.6,236.0 798.0,234.8 798.4,234.7 798.8,237.6 799.2,239.8 799.6,238.5 800.0,238.3 800.4,238.7 800.8,238.5 801.2,241.2 801.6,232.7 802.0,240.2 802.4,239.2 802.8,238.7 803.2,239.7 803.6,239.9 804.0,240.2 804.4,238.6 804.8,242.3 805.2,236.3 805.6,253.1 806.0,240.5 806.4,244.5 806.8,242.3 807.1,241.1 807.5,244.0 807.9,240.8 808.3,244.3 808.7,246.5 809.1,244.6 809.5,251.7 809.9,248.0 810.3,241.2 810.7,246.7 811.1,238.3 811.5,244.6 811.9,245.9 812.3,237.7 812.7,246.8 813.1,247.3 813.5,245.3 813.9,249.3 814.3,244.9 814.7,249.4 815.1,246.1 815.5,246.7 815.9,246.6 816.3,247.0 816.7,245.2 817.1,238.3 817.5,249.4 817.9,248.5 818.3,248.0 818.7,250.8 819.1,248.8 819.5,246.6 819.9,252.8 820.3,251.2 820.7,247.3 821.1,247.4 821.5,248.9 821.9,249.5 822.3,254.5 822.7,249.8 823.1,247.0 823.5,249.3 823.8,249.3 824.2,249.8 824.6,247.3 825.0,242.6 825.4,243.7 825.8,254.6 826.2,251.6 826.6,251.9 827.0,251.8 827.4,250.2 827.8,262.9 828.2,256.4 828.6,252.5 829.0,250.4 829.4,254.0 829.8,255.5 830.2,253.3 830.6,252.9 831.0,245.8 831.4,247.1 831.8,249.1 832.2,252.0 832.6,253.2 833.0,253.4 833.4,251.8 833.8,251.2 834.2,256.0 834.6,253.0 835.0,248.9 835.4,255.4 835.8,251.5 836.2,253.4 836.6,262.8 837.0,265.2 837.4,257.6 837.8,254.9 838.2,256.1 838.6,257.9 839.0,256.9 839.4,257.9 839.8,252.1 840.2,258.5 840.5,256.7 840.9,251.5 841.3,256.3 841.7,256.9 842.1,256.2 842.5,254.8 842.9,254.7 843.3,252.7 843.7,255.4 844.1,260.0 844.5,251.4 844.9,258.1 845.3,255.0 845.7,256.2 846.1,260.7 846.5,258.0 846.9,256.8 847.3,259.8 847.7,252.4 848.1,258.6 848.5,255.8 848.9,255.9 849.3,254.3 849.7,256.9 850.1,249.7 850.5,261.1 850.9,257.6 851.3,257.4 851.7,256.2 852.1,264.7 852.5,252.2 852.9,254.0 853.3,257.2 853.7,256.8 854.1,258.1 854.5,255.2 854.9,256.6 855.3,267.4 855.7,250.9 856.1,258.3 856.5,254.0 856.8,255.8 857.2,256.9 857.6,258.2 858.0,256.5 858.4,258.2 858.8,257.3 859.2,265.9 859.6,248.3 860.0,257.9 860.4,258.4 860.8,260.6 861.2,257.4 861.6,265.1 862.0,254.6 862.4,257.7 862.8,253.4 863.2,259.4 863.6,261.8 864.0,258.7 864.4,264.2 864.8,257.3 865.2,247.5 865.6,259.7 866.0,254.3 866.4,261.5 866.8,258.2 867.2,257.5 867.6,265.8 868.0,253.4 868.4,264.2 868.8,263.1 869.2,249.5 869.6,255.6 870.0,254.9 870.4,257.2 870.8,257.2 871.2,260.5 871.6,258.1 872.0,255.4 872.4,258.2 872.8,265.2 873.2,260.4 873.5,265.2 873.9,257.6 874.3,257.7 874.7,255.9 875.1,257.1 875.5,258.7 875.9,258.9 876.3,256.6 876.7,255.0 877.1,257.8 877.5,257.8 877.9,256.7 878.3,254.8 878.7,264.1 879.1,254.5 879.5,260.1 879.9,257.8 880.3,247.1 880.7,255.8 881.1,261.2 881.5,248.5 881.9,260.1 882.3,259.6 882.7,261.4 883.1,258.4 883.5,252.3 883.9,253.5 884.3,252.4 884.7,254.4 885.1,257.8 885.5,264.0 885.9,265.2 886.3,259.9 886.7,258.5 887.1,259.5 887.5,258.2 887.9,258.9 888.3,258.4 888.7,255.3 889.1,258.7 889.5,262.8 889.9,254.6 890.2,258.2 890.6,256.6 891.0,262.2 891.4,255.2 891.8,255.1 892.2,258.2 892.6,265.4 893.0,260.5 893.4,259.8 893.8,257.6 894.2,257.8 894.6,259.5 895.0,263.3 895.4,261.6 895.8,259.3 896.2,261.8 896.6,258.2 897.0,251.0 897.4,259.3 897.8,261.2 898.2,262.8 898.6,258.1 899.0,261.2 899.4,261.7 899.8,256.3 900.2,260.8 900.6,261.3 901.0,270.4 901.4,257.5 901.8,259.4 902.2,259.8 902.6,261.8 903.0,256.2 903.4,259.6 903.8,256.5 904.2,259.3 904.6,260.3 905.0,257.1 905.4,260.1 905.8,258.8 906.2,259.9 906.5,256.1 906.9,259.4 907.3,254.6 907.7,257.9 908.1,260.7 908.5,260.2 908.9,256.0 909.3,260.1 909.7,260.3 910.1,256.7 910.5,263.5 910.9,259.3 911.3,257.8 911.7,260.0 912.1,255.3 912.5,257.6 912.9,261.5 913.3,259.2 913.7,267.2 914.1,256.9 914.5,254.8 914.9,257.0 915.3,253.1 915.7,258.4 916.1,261.5 916.5,260.9 916.9,259.9 917.3,265.6 917.7,263.9 918.1,263.3 918.5,260.9 918.9,263.2 919.3,259.6 919.7,258.2 920.1,261.4 920.5,265.8 920.9,257.8 921.3,259.6 921.7,264.6 922.1,258.7 922.5,253.1 922.9,261.0 923.2,260.4 923.6,260.9 924.0,257.5 924.4,261.3 924.8,259.6 925.2,255.7 925.6,257.3 926.0,256.5 926.4,258.9 926.8,258.7 927.2,266.7 927.6,260.2 928.0,255.9 928.4,257.4 928.8,259.1 929.2,259.4 929.6,258.8 930.0,258.5 930.4,261.7 930.8,258.6 931.2,264.5 931.6,261.3 932.0,263.3 932.4,260.1 932.8,258.3 933.2,259.7 933.6,259.2 934.0,259.8 934.4,263.5 934.8,258.7 935.2,261.6 935.6,260.5 936.0,255.0 936.4,261.8 936.8,263.5 937.2,256.1 937.6,258.6 938.0,262.8 938.4,260.8 938.8,252.3 939.2,261.9 939.5,259.9 939.9,257.2 940.3,261.8 940.7,256.9 941.1,258.2 941.5,264.1 941.9,256.2 942.3,258.1 942.7,263.0 943.1,259.6 943.5,257.9 943.9,258.4 944.3,265.4 944.7,266.9 945.1,259.5 945.5,256.1 945.9,258.8 946.3,259.1 946.7,259.0 947.1,260.0 947.5,271.2 947.9,255.9 948.3,257.6 948.7,265.1 949.1,259.3 949.5,257.7 949.9,255.3 950.3,255.5 950.7,259.8 951.1,259.9 951.5,261.6 951.9,259.2 952.3,255.6 952.7,258.9 953.1,258.5 953.5,261.4 953.9,256.0 954.3,259.4 954.7,263.0 955.1,255.4 955.5,259.8 955.9,261.2 956.2,259.7 956.6,258.5 957.0,260.4 957.4,259.3 957.8,261.8 958.2,252.6 958.6,257.9 959.0,254.9 959.4,262.2 959.8,256.9 960.2,260.5 960.6,261.7 961.0,263.0 961.4,260.8 961.8,261.6 962.2,260.3 962.6,256.7 963.0,261.6 963.4,261.4 963.8,265.7 964.2,259.3 964.6,260.0 965.0,254.8 965.4,257.4 965.8,257.4 966.2,258.5 966.6,260.3 967.0,266.1 967.4,260.6 967.8,264.5 968.2,259.5 968.6,260.5 969.0,259.3 969.4,259.8 969.8,258.6 970.2,262.3 970.6,267.8 971.0,267.8 971.4,263.8 971.8,258.6 972.2,259.0 972.6,260.6 972.9,261.0 973.3,258.4 973.7,257.0 974.1,256.1 974.5,258.5 974.9,260.0 975.3,262.6 975.7,259.6 976.1,263.0 976.5,263.5 976.9,259.0 977.3,265.5 977.7,262.7 978.1,257.5 978.5,258.1 978.9,257.2 979.3,268.2 979.7,259.8 980.1,258.1 980.5,264.1 980.9,257.7" fill="none" stroke="#000" stroke-width="3.0" stroke-linejoin="round"/>
<rect x="66.1" y="7.7" width="397.6" height="294.3" fill="none" stroke="#1a1a1a" stroke-width="1.5"/>
<line x1="66.10" y1="302.0" x2="66.10" y2="296.0" stroke="#1a1a1a" stroke-width="1.4"/>
<line x1="66.10" y1="7.7" x2="66.10" y2="13.7" stroke="#1a1a1a" stroke-width="1.4"/>
<line x1="85.98" y1="302.0" x2="85.98" y2="298.5" stroke="#1a1a1a" stroke-width="1.4"/>
<line x1="85.98" y1="7.7" x2="85.98" y2="11.2" stroke="#1a1a1a" stroke-width="1.4"/>
<line x1="105.86" y1="302.0" x2="105.86" y2="298.5" stroke="#1a1a1a" stroke-width="1.4"/>
<line x1="105.86" y1="7.7" x2="105.86" y2="11.2" stroke="#1a1a1a" stroke-width="1.4"/>
<line x1="125.74" y1="302.0" x2="125.74" y2="298.5" stroke="#1a1a1a" stroke-width="1.4"/>
<line x1="125.74" y1="7.7" x2="125.74" y2="11.2" stroke="#1a1a1a" stroke-width="1.4"/>
<line x1="145.62" y1="302.0" x2="145.62" y2="298.5" stroke="#1a1a1a" stroke-width="1.4"/>
<line x1="145.62" y1="7.7" x2="145.62" y2="11.2" stroke="#1a1a1a" stroke-width="1.4"/>
<line x1="165.50" y1="302.0" x2="165.50" y2="296.0" stroke="#1a1a1a" stroke-width="1.4"/>
<line x1="165.50" y1="7.7" x2="165.50" y2="13.7" stroke="#1a1a1a" stroke-width="1.4"/>
<line x1="185.38" y1="302.0" x2="185.38" y2="298.5" stroke="#1a1a1a" stroke-width="1.4"/>
<line x1="185.38" y1="7.7" x2="185.38" y2="11.2" stroke="#1a1a1a" stroke-width="1.4"/>
<line x1="205.26" y1="302.0" x2="205.26" y2="298.5" stroke="#1a1a1a" stroke-width="1.4"/>
<line x1="205.26" y1="7.7" x2="205.26" y2="11.2" stroke="#1a1a1a" stroke-width="1.4"/>
<line x1="225.14" y1="302.0" x2="225.14" y2="298.5" stroke="#1a1a1a" stroke-width="1.4"/>
<line x1="225.14" y1="7.7" x2="225.14" y2="11.2" stroke="#1a1a1a" stroke-width="1.4"/>
<line x1="245.02" y1="302.0" x2="245.02" y2="298.5" stroke="#1a1a1a" stroke-width="1.4"/>
<line x1="245.02" y1="7.7" x2="245.02" y2="11.2" stroke="#1a1a1a" stroke-width="1.4"/>
<line x1="264.90" y1="302.0" x2="264.90" y2="296.0" stroke="#1a1a1a" stroke-width="1.4"/>
<line x1="264.90" y1="7.7" x2="264.90" y2="13.7" stroke="#1a1a1a" stroke-width="1.4"/>
<line x1="284.78" y1="302.0" x2="284.78" y2="298.5" stroke="#1a1a1a" stroke-width="1.4"/>
<line x1="284.78" y1="7.7" x2="284.78" y2="11.2" stroke="#1a1a1a" stroke-width="1.4"/>
<line x1="304.66" y1="302.0" x2="304.66" y2="298.5" stroke="#1a1a1a" stroke-width="1.4"/>
<line x1="304.66" y1="7.7" x2="304.66" y2="11.2" stroke="#1a1a1a" stroke-width="1.4"/>
<line x1="324.54" y1="302.0" x2="324.54" y2="298.5" stroke="#1a1a1a" stroke-width="1.4"/>
<line x1="324.54" y1="7.7" x2="324.54" y2="11.2" stroke="#1a1a1a" stroke-width="1.4"/>
<line x1="344.42" y1="302.0" x2="344.42" y2="298.5" stroke="#1a1a1a" stroke-width="1.4"/>
<line x1="344.42" y1="7.7" x2="344.42" y2="11.2" stroke="#1a1a1a" stroke-width="1.4"/>
<line x1="364.30" y1="302.0" x2="364.30" y2="296.0" stroke="#1a1a1a" stroke-width="1.4"/>
<line x1="364.30" y1="7.7" x2="364.30" y2="13.7" stroke="#1a1a1a" stroke-width="1.4"/>
<line x1="384.18" y1="302.0" x2="384.18" y2="298.5" stroke="#1a1a1a" stroke-width="1.4"/>
<line x1="384.18" y1="7.7" x2="384.18" y2="11.2" stroke="#1a1a1a" stroke-width="1.4"/>
<line x1="404.06" y1="302.0" x2="404.06" y2="298.5" stroke="#1a1a1a" stroke-width="1.4"/>
<line x1="404.06" y1="7.7" x2="404.06" y2="11.2" stroke="#1a1a1a" stroke-width="1.4"/>
<line x1="423.94" y1="302.0" x2="423.94" y2="298.5" stroke="#1a1a1a" stroke-width="1.4"/>
<line x1="423.94" y1="7.7" x2="423.94" y2="11.2" stroke="#1a1a1a" stroke-width="1.4"/>
<line x1="443.82" y1="302.0" x2="443.82" y2="298.5" stroke="#1a1a1a" stroke-width="1.4"/>
<line x1="443.82" y1="7.7" x2="443.82" y2="11.2" stroke="#1a1a1a" stroke-width="1.4"/>
<line x1="463.70" y1="302.0" x2="463.70" y2="296.0" stroke="#1a1a1a" stroke-width="1.4"/>
<line x1="463.70" y1="7.7" x2="463.70" y2="13.7" stroke="#1a1a1a" stroke-width="1.4"/>
<line x1="66.1" y1="302.00" x2="69.89999999999999" y2="302.00" stroke="#1a1a1a" stroke-width="1.4"/>
<line x1="66.1" y1="280.98" x2="69.89999999999999" y2="280.98" stroke="#1a1a1a" stroke-width="1.4"/>
<line x1="66.1" y1="259.96" x2="72.1" y2="259.96" stroke="#1a1a1a" stroke-width="1.4"/>
<line x1="66.1" y1="238.94" x2="69.89999999999999" y2="238.94" stroke="#1a1a1a" stroke-width="1.4"/>
<line x1="66.1" y1="217.91" x2="69.89999999999999" y2="217.91" stroke="#1a1a1a" stroke-width="1.4"/>
<line x1="66.1" y1="196.89" x2="69.89999999999999" y2="196.89" stroke="#1a1a1a" stroke-width="1.4"/>
<line x1="66.1" y1="175.87" x2="72.1" y2="175.87" stroke="#1a1a1a" stroke-width="1.4"/>
<line x1="66.1" y1="154.85" x2="69.89999999999999" y2="154.85" stroke="#1a1a1a" stroke-width="1.4"/>
<line x1="66.1" y1="133.83" x2="69.89999999999999" y2="133.83" stroke="#1a1a1a" stroke-width="1.4"/>
<line x1="66.1" y1="112.81" x2="69.89999999999999" y2="112.81" stroke="#1a1a1a" stroke-width="1.4"/>
<line x1="66.1" y1="91.79" x2="72.1" y2="91.79" stroke="#1a1a1a" stroke-width="1.4"/>
<line x1="66.1" y1="70.76" x2="69.89999999999999" y2="70.76" stroke="#1a1a1a" stroke-width="1.4"/>
<line x1="66.1" y1="49.74" x2="69.89999999999999" y2="49.74" stroke="#1a1a1a" stroke-width="1.4"/>
<line x1="66.1" y1="28.72" x2="69.89999999999999" y2="28.72" stroke="#1a1a1a" stroke-width="1.4"/>
<line x1="66.1" y1="7.70" x2="72.1" y2="7.70" stroke="#1a1a1a" stroke-width="1.4"/>
<rect x="583.7" y="7.7" width="397.19999999999993" height="294.3" fill="none" stroke="#1a1a1a" stroke-width="1.5"/>
<line x1="583.70" y1="302.0" x2="583.70" y2="296.0" stroke="#1a1a1a" stroke-width="1.4"/>
<line x1="583.70" y1="7.7" x2="583.70" y2="13.7" stroke="#1a1a1a" stroke-width="1.4"/>
<line x1="603.56" y1="302.0" x2="603.56" y2="298.5" stroke="#1a1a1a" stroke-width="1.4"/>
<line x1="603.56" y1="7.7" x2="603.56" y2="11.2" stroke="#1a1a1a" stroke-width="1.4"/>
<line x1="623.42" y1="302.0" x2="623.42" y2="298.5" stroke="#1a1a1a" stroke-width="1.4"/>
<line x1="623.42" y1="7.7" x2="623.42" y2="11.2" stroke="#1a1a1a" stroke-width="1.4"/>
<line x1="643.28" y1="302.0" x2="643.28" y2="298.5" stroke="#1a1a1a" stroke-width="1.4"/>
<line x1="643.28" y1="7.7" x2="643.28" y2="11.2" stroke="#1a1a1a" stroke-width="1.4"/>
<line x1="663.14" y1="302.0" x2="663.14" y2="298.5" stroke="#1a1a1a" stroke-width="1.4"/>
<line x1="663.14" y1="7.7" x2="663.14" y2="11.2" stroke="#1a1a1a" stroke-width="1.4"/>
<line x1="683.00" y1="302.0" x2="683.00" y2="296.0" stroke="#1a1a1a" stroke-width="1.4"/>
<line x1="683.00" y1="7.7" x2="683.00" y2="13.7" stroke="#1a1a1a" stroke-width="1.4"/>
<line x1="702.86" y1="302.0" x2="702.86" y2="298.5" stroke="#1a1a1a" stroke-width="1.4"/>
<line x1="702.86" y1="7.7" x2="702.86" y2="11.2" stroke="#1a1a1a" stroke-width="1.4"/>
<line x1="722.72" y1="302.0" x2="722.72" y2="298.5" stroke="#1a1a1a" stroke-width="1.4"/>
<line x1="722.72" y1="7.7" x2="722.72" y2="11.2" stroke="#1a1a1a" stroke-width="1.4"/>
<line x1="742.58" y1="302.0" x2="742.58" y2="298.5" stroke="#1a1a1a" stroke-width="1.4"/>
<line x1="742.58" y1="7.7" x2="742.58" y2="11.2" stroke="#1a1a1a" stroke-width="1.4"/>
<line x1="762.44" y1="302.0" x2="762.44" y2="298.5" stroke="#1a1a1a" stroke-width="1.4"/>
<line x1="762.44" y1="7.7" x2="762.44" y2="11.2" stroke="#1a1a1a" stroke-width="1.4"/>
<line x1="782.30" y1="302.0" x2="782.30" y2="296.0" stroke="#1a1a1a" stroke-width="1.4"/>
<line x1="782.30" y1="7.7" x2="782.30" y2="13.7" stroke="#1a1a1a" stroke-width="1.4"/>
<line x1="802.16" y1="302.0" x2="802.16" y2="298.5" stroke="#1a1a1a" stroke-width="1.4"/>
<line x1="802.16" y1="7.7" x2="802.16" y2="11.2" stroke="#1a1a1a" stroke-width="1.4"/>
<line x1="822.02" y1="302.0" x2="822.02" y2="298.5" stroke="#1a1a1a" stroke-width="1.4"/>
<line x1="822.02" y1="7.7" x2="822.02" y2="11.2" stroke="#1a1a1a" stroke-width="1.4"/>
<line x1="841.88" y1="302.0" x2="841.88" y2="298.5" stroke="#1a1a1a" stroke-width="1.4"/>
<line x1="841.88" y1="7.7" x2="841.88" y2="11.2" stroke="#1a1a1a" stroke-width="1.4"/>
<line x1="861.74" y1="302.0" x2="861.74" y2="298.5" stroke="#1a1a1a" stroke-width="1.4"/>
<line x1="861.74" y1="7.7" x2="861.74" y2="11.2" stroke="#1a1a1a" stroke-width="1.4"/>
<line x1="881.60" y1="302.0" x2="881.60" y2="296.0" stroke="#1a1a1a" stroke-width="1.4"/>
<line x1="881.60" y1="7.7" x2="881.60" y2="13.7" stroke="#1a1a1a" stroke-width="1.4"/>
<line x1="901.46" y1="302.0" x2="901.46" y2="298.5" stroke="#1a1a1a" stroke-width="1.4"/>
<line x1="901.46" y1="7.7" x2="901.46" y2="11.2" stroke="#1a1a1a" stroke-width="1.4"/>
<line x1="921.32" y1="302.0" x2="921.32" y2="298.5" stroke="#1a1a1a" stroke-width="1.4"/>
<line x1="921.32" y1="7.7" x2="921.32" y2="11.2" stroke="#1a1a1a" stroke-width="1.4"/>
<line x1="941.18" y1="302.0" x2="941.18" y2="298.5" stroke="#1a1a1a" stroke-width="1.4"/>
<line x1="941.18" y1="7.7" x2="941.18" y2="11.2" stroke="#1a1a1a" stroke-width="1.4"/>
<line x1="961.04" y1="302.0" x2="961.04" y2="298.5" stroke="#1a1a1a" stroke-width="1.4"/>
<line x1="961.04" y1="7.7" x2="961.04" y2="11.2" stroke="#1a1a1a" stroke-width="1.4"/>
<line x1="980.90" y1="302.0" x2="980.90" y2="296.0" stroke="#1a1a1a" stroke-width="1.4"/>
<line x1="980.90" y1="7.7" x2="980.90" y2="13.7" stroke="#1a1a1a" stroke-width="1.4"/>
<line x1="583.7" y1="302.00" x2="587.5" y2="302.00" stroke="#1a1a1a" stroke-width="1.4"/>
<line x1="583.7" y1="280.98" x2="587.5" y2="280.98" stroke="#1a1a1a" stroke-width="1.4"/>
<line x1="583.7" y1="259.96" x2="589.7" y2="259.96" stroke="#1a1a1a" stroke-width="1.4"/>
<line x1="583.7" y1="238.94" x2="587.5" y2="238.94" stroke="#1a1a1a" stroke-width="1.4"/>
<line x1="583.7" y1="217.91" x2="587.5" y2="217.91" stroke="#1a1a1a" stroke-width="1.4"/>
<line x1="583.7" y1="196.89" x2="587.5" y2="196.89" stroke="#1a1a1a" stroke-width="1.4"/>
<line x1="583.7" y1="175.87" x2="589.7" y2="175.87" stroke="#1a1a1a" stroke-width="1.4"/>
<line x1="583.7" y1="154.85" x2="587.5" y2="154.85" stroke="#1a1a1a" stroke-width="1.4"/>
<line x1="583.7" y1="133.83" x2="587.5" y2="133.83" stroke="#1a1a1a" stroke-width="1.4"/>
<line x1="583.7" y1="112.81" x2="587.5" y2="112.81" stroke="#1a1a1a" stroke-width="1.4"/>
<line x1="583.7" y1="91.79" x2="589.7" y2="91.79" stroke="#1a1a1a" stroke-width="1.4"/>
<line x1="583.7" y1="70.76" x2="587.5" y2="70.76" stroke="#1a1a1a" stroke-width="1.4"/>
<line x1="583.7" y1="49.74" x2="587.5" y2="49.74" stroke="#1a1a1a" stroke-width="1.4"/>
<line x1="583.7" y1="28.72" x2="587.5" y2="28.72" stroke="#1a1a1a" stroke-width="1.4"/>
<line x1="583.7" y1="7.70" x2="589.7" y2="7.70" stroke="#1a1a1a" stroke-width="1.4"/>
<text x="66.1" y="322.5" font-size="17.5" text-anchor="middle" >600</text>
<text x="165.5" y="322.5" font-size="17.5" text-anchor="middle" >700</text>
<text x="264.9" y="322.5" font-size="17.5" text-anchor="middle" >800</text>
<text x="364.3" y="322.5" font-size="17.5" text-anchor="middle" >900</text>
<text x="463.7" y="322.5" font-size="17.5" text-anchor="middle" >1000</text>
<text x="59.7" y="265.8" font-size="17.5" text-anchor="end" >0.0</text>
<text x="59.7" y="181.7" font-size="17.5" text-anchor="end" >0.4</text>
<text x="59.7" y="97.6" font-size="17.5" text-anchor="end" >0.8</text>
<text x="59.7" y="13.5" font-size="17.5" text-anchor="end" >1.2</text>
<text x="583.7" y="322.5" font-size="17.5" text-anchor="middle" >600</text>
<text x="683.0" y="322.5" font-size="17.5" text-anchor="middle" >700</text>
<text x="782.3" y="322.5" font-size="17.5" text-anchor="middle" >800</text>
<text x="881.6" y="322.5" font-size="17.5" text-anchor="middle" >900</text>
<text x="980.9" y="322.5" font-size="17.5" text-anchor="middle" >1000</text>
<text x="577.3" y="265.8" font-size="17.5" text-anchor="end" >0.0</text>
<text x="577.3" y="181.7" font-size="17.5" text-anchor="end" >0.4</text>
<text x="577.3" y="97.6" font-size="17.5" text-anchor="end" >0.8</text>
<text x="577.3" y="13.5" font-size="17.5" text-anchor="end" >1.2</text>
<text x="265.5" y="356" font-size="21.5" text-anchor="middle" >Wavelength (nm)</text>
<text x="779.5" y="358" font-size="21.5" text-anchor="middle" >Wavelength (nm)</text>
<text x="0" y="0" font-size="21.5" text-anchor="middle" transform="translate(15.3,145) rotate(-90)">Intensity (arb.unit)</text>
<text x="0" y="0" font-size="21.5" text-anchor="middle" transform="translate(533.3,146) rotate(-90)">Intensity (arb.unit)</text>
<text x="0" y="0" font-size="25.6" transform="translate(80.6,42.3) scale(0.93,1)">(a)</text>
<text x="0" y="0" font-size="25.6" transform="translate(588.1,42.1) scale(0.93,1)">(b)</text>
<rect x="295.5" y="22.6" width="155.1" height="43.9" fill="#fff" stroke="#6a6a6a" stroke-width="1"/>
<line x1="301.7" y1="34.2" x2="343.8" y2="34.2" stroke="#c0202c" stroke-width="2"/>
<line x1="301.7" y1="56.2" x2="343.8" y2="56.2" stroke="#000" stroke-width="2"/>
<text x="348.1" y="41.0" font-size="17.8" text-anchor="start" >Broadband</text>
<text x="348.1" y="62.8" font-size="17.8" text-anchor="start" >Narrowband</text>
<rect x="812" y="21.6" width="154.7" height="44.5" fill="#fff" stroke="#6a6a6a" stroke-width="1"/>
<line x1="818.2" y1="33.2" x2="860.3" y2="33.2" stroke="#c0202c" stroke-width="2"/>
<line x1="818.2" y1="55.2" x2="860.3" y2="55.2" stroke="#000" stroke-width="2"/>
<text x="864.6" y="40.0" font-size="17.8" text-anchor="start" >Broadband</text>
<text x="864.6" y="61.8" font-size="17.8" text-anchor="start" >Narrowband</text>
</svg>
</body></html>
